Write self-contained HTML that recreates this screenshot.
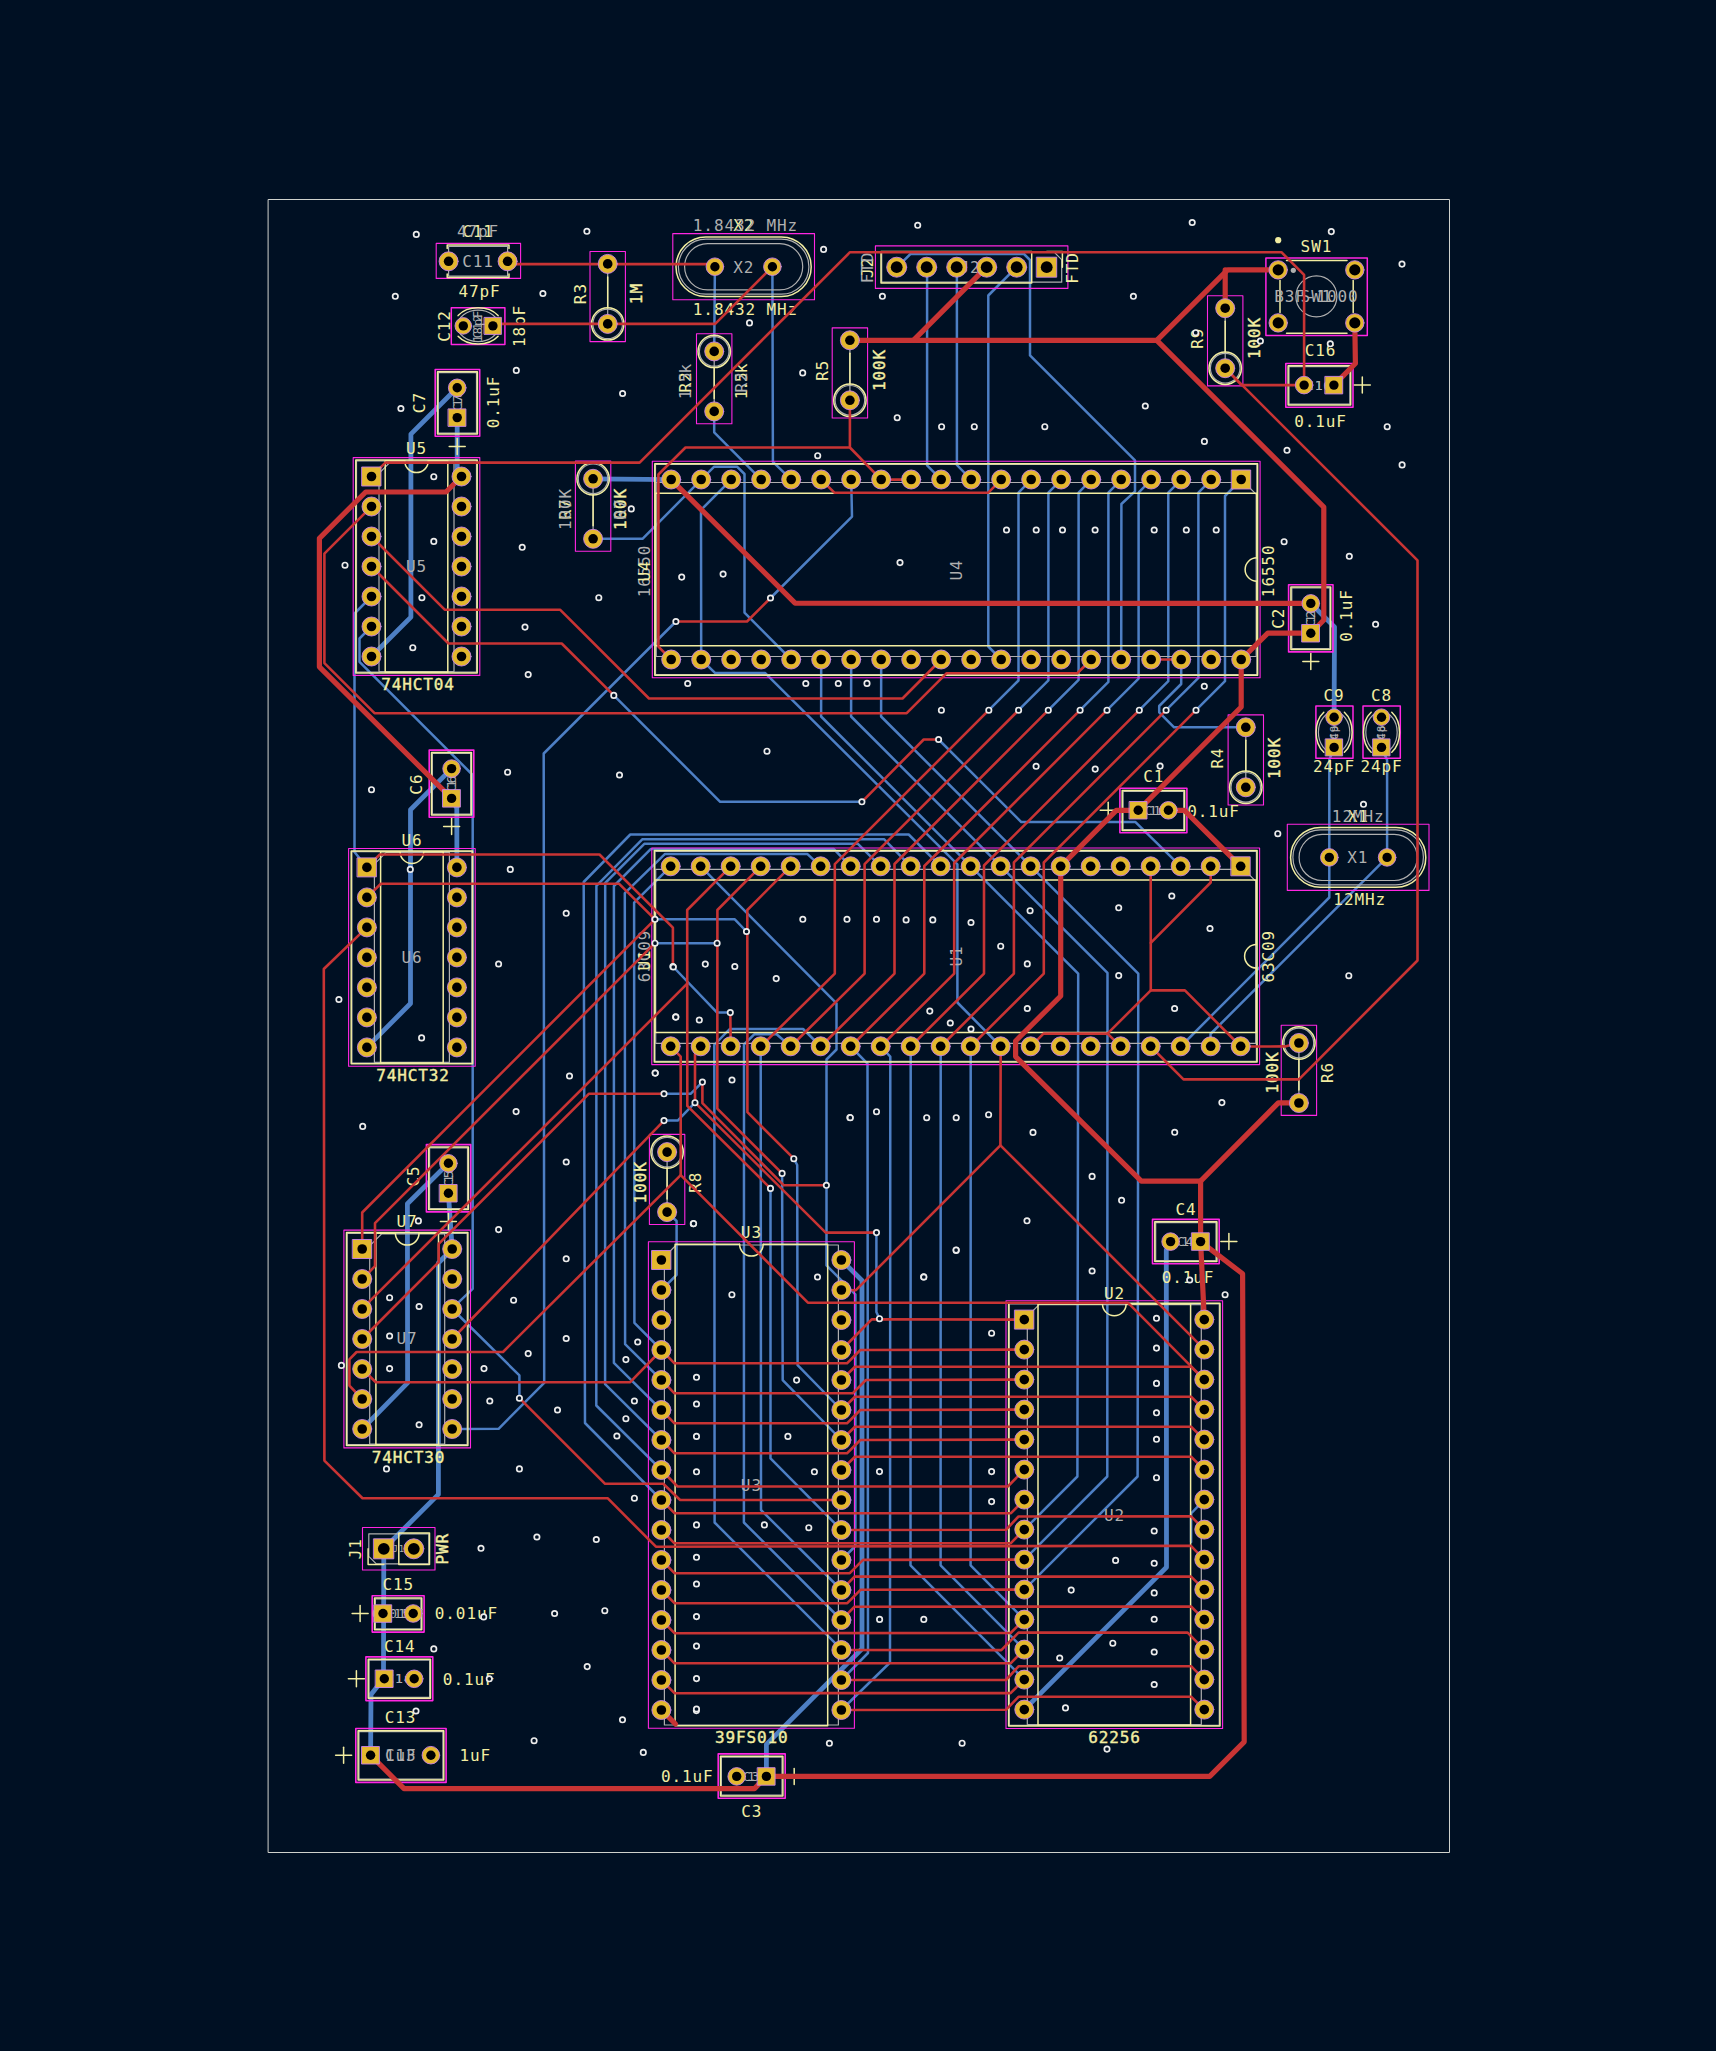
<!DOCTYPE html>
<html><head><meta charset="utf-8"><title>PCB</title>
<style>
html,body{margin:0;padding:0;background:#001023;}
svg{display:block;}
path,rect,circle,ellipse{fill:none;stroke-linecap:round;stroke-linejoin:round;}
text{font-family:"DejaVu Sans Mono","Liberation Mono",monospace;font-size:16px;letter-spacing:0.9px;text-anchor:middle;stroke:none;}
text.s{fill:#F2EDA1;}
text.f{fill:#AFAFAF;}
text.b{stroke:#F2EDA1;stroke-width:0.4px;}
.p{fill:#E3B72E;stroke:#C982E6;stroke-width:0.9;}
.h{fill:#000;stroke:none;}
#via circle{fill:#001023;stroke:#ECECEC;stroke-width:1.7;}
</style></head><body>
<svg width="1716" height="2051" viewBox="0 0 1716 2051">
<rect x="0" y="0" width="1716" height="2051" style="fill:#001023;stroke:none"/>
<rect x="268.5" y="199.5" width="1181" height="1653" stroke="#D0D2CD" stroke-width="1"/>
<g id="bcu">
<path d="M457.2 387.8 L410.9 434.1 L410.9 617.1 L371.5 656.5" stroke="#4D7FC4" stroke-width="4.8" />
<path d="M457.2 417.6 L457.2 468 L461.5 476.5" stroke="#4D7FC4" stroke-width="4.8" />
<path d="M371.5 596.5 L354.5 613.5 L354.5 852 L366.9 867.4" stroke="#4D7FC4" stroke-width="2.5" />
<path d="M371.5 626.5 L359.5 638.5 L359.5 661.8 L472.7 775 L472.7 1288.8 L459 1301.8 L452.2 1309" stroke="#4D7FC4" stroke-width="2.5" />
<path d="M714.9 266.7 L714.2 351.4" stroke="#4D7FC4" stroke-width="2.5" />
<path d="M714.2 411.8 L714.2 432.3 L761.2 479.6" stroke="#4D7FC4" stroke-width="2.5" />
<path d="M772.4 266.7 L772.9 461.8 L791.2 479.6" stroke="#4D7FC4" stroke-width="2.5" />
<path d="M451.6 768.6 L410.5 809.7 L410.5 1003.5 L366.9 1047.4" stroke="#4D7FC4" stroke-width="4.8" />
<path d="M451.6 798.4 L456.8 808 L456.9 867.4" stroke="#4D7FC4" stroke-width="4.8" />
<path d="M770.5 598 L852 516.6 L851.2 479.6" stroke="#4D7FC4" stroke-width="2.5" />
<path d="M675.9 621.5 L543.7 753.5 L544.2 1382.9 L498.6 1428.8 L452.2 1429" stroke="#4D7FC4" stroke-width="2.5" />
<path d="M593.1 478.8 L671.2 479.6" stroke="#4D7FC4" stroke-width="4.8" />
<path d="M593.1 538.8 L642.5 538.8 L701.2 479.6" stroke="#4D7FC4" stroke-width="2.5" />
<path d="M731.2 479.6 L701 510 L701.2 659.5 L715 672.9 L765 672.9 L957.4 864.3 L957.4 1002.5 L1000.7 1046.5" stroke="#4D7FC4" stroke-width="2.5" />
<path d="M701.2 479.6 L714.2 466.7 L737 466.7 L744.5 474 L744.5 612.6 L791.2 659.5" stroke="#4D7FC4" stroke-width="2.5" />
<path d="M821.2 659.5 L821.1 716.5 L1078.2 973.6 L1077.4 1476.5 L1024.3 1529.6" stroke="#4D7FC4" stroke-width="2.5" />
<path d="M851.2 659.5 L851.1 716.5 L1107.5 972.9 L1107.3 1476.5 L1024.3 1559.6" stroke="#4D7FC4" stroke-width="2.5" />
<path d="M881.2 659.5 L881.1 716.5 L1138.3 973.7 L1137.6 1476.5 L1024.3 1589.6" stroke="#4D7FC4" stroke-width="2.5" />
<path d="M613.8 695.4 L720.2 801.8 L861.9 801.8" stroke="#4D7FC4" stroke-width="2.5" />
<path d="M938.6 739.5 L1021.3 822.1 L1135.5 822.1 L1180.7 866.4" stroke="#4D7FC4" stroke-width="2.5" />
<path d="M927.1 267.2 L927.1 465.4 L941.2 479.6" stroke="#4D7FC4" stroke-width="2.5" />
<path d="M956.9 267.2 L956.9 465 L971.2 479.6" stroke="#4D7FC4" stroke-width="2.5" />
<path d="M1016.6 267.2 L988.3 295.5 L988.3 646.5 L1001.2 659.5" stroke="#4D7FC4" stroke-width="2.5" />
<path d="M1031.2 479.6 L1018.5 492.7 L1018.5 680.5 L988.8 710.2" stroke="#4D7FC4" stroke-width="2.5" />
<path d="M1061.2 479.6 L1048.4 492.7 L1048.4 680.4 L1018.6 710.2" stroke="#4D7FC4" stroke-width="2.5" />
<path d="M1091.2 479.6 L1078.6 492.7 L1078.6 679.9 L1048.3 710.2" stroke="#4D7FC4" stroke-width="2.5" />
<path d="M1121.2 479.6 L1108.4 492.7 L1108.4 681.9 L1080.1 710.2" stroke="#4D7FC4" stroke-width="2.5" />
<path d="M1151.2 479.6 L1138.6 492.7 L1138.6 678.6 L1107 710.2" stroke="#4D7FC4" stroke-width="2.5" />
<path d="M1181.2 479.6 L1168.3 492.7 L1168.3 681.2 L1139.3 710.2" stroke="#4D7FC4" stroke-width="2.5" />
<path d="M1211.2 479.6 L1198.4 492.7 L1198.4 677.9 L1166.1 710.2" stroke="#4D7FC4" stroke-width="2.5" />
<path d="M1241.2 479.6 L1225 496 L1225 681.2 L1196 710.2" stroke="#4D7FC4" stroke-width="2.5" />
<path d="M897.2 267.2 L910.4 254 L1024 254 L1030 260 L1030 355.4 L1135 460.4 L1135 491.4 L1121.4 504 L1121.2 659.5" stroke="#4D7FC4" stroke-width="2.5" />
<path d="M1181.2 659.5 L1181.2 684 L1159.2 706 L1159.2 712.3 L1174.1 727.3 L1245.8 727.3" stroke="#4D7FC4" stroke-width="2.5" />
<path d="M1310.8 603.4 L1334.5 627 L1334.1 717.2" stroke="#4D7FC4" stroke-width="4.8" />
<path d="M655 919.3 L734.8 919.3 L746.5 931.5" stroke="#4D7FC4" stroke-width="2.5" />
<path d="M655 943.2 L717.1 943.2" stroke="#4D7FC4" stroke-width="2.5" />
<path d="M672.9 966.5 L717.1 1012.6 L730.3 1012.6" stroke="#4D7FC4" stroke-width="2.5" />
<path d="M700.7 866.4 L836.5 1003.3 L836.5 1049.5 L826.5 1059.5 L826.5 1265.4 L855.4 1294.3 L855.4 1546 L841.4 1560" stroke="#4D7FC4" stroke-width="2.5" />
<path d="M820.7 1046.5 L803.1 1029 L729.7 1029 L714.3 1044.8 L714.6 1522.5 L833.9 1641.8 L841.4 1650" stroke="#4D7FC4" stroke-width="2.5" />
<path d="M790.7 1046.5 L776.6 1034.3 L754.2 1034.3 L744 1044.5 L743.9 1522.5 L841.4 1620" stroke="#4D7FC4" stroke-width="2.5" />
<path d="M940.7 866.4 L908.7 834.5 L630.3 834.5 L583.7 882 L585 1423 L661.4 1500" stroke="#4D7FC4" stroke-width="2.5" />
<path d="M910.7 866.4 L884 839.2 L642.5 839.2 L596.4 885.8 L596.3 1405.5 L661.4 1470" stroke="#4D7FC4" stroke-width="2.5" />
<path d="M880.7 866.4 L857.9 843.8 L644.3 843.8 L605.2 883 L605.1 1384.2 L661.4 1440" stroke="#4D7FC4" stroke-width="2.5" />
<path d="M850.7 866.4 L833.6 848.9 L650.9 848.9 L613.9 886 L613.9 1362.9 L661.4 1410" stroke="#4D7FC4" stroke-width="2.5" />
<path d="M820.7 866.4 L807.5 854.1 L664.8 854.1 L624.8 893.2 L625.1 1344.1 L661.4 1380" stroke="#4D7FC4" stroke-width="2.5" />
<path d="M670.7 866.4 L634.1 902.6 L634.4 1322.8 L661.4 1350" stroke="#4D7FC4" stroke-width="2.5" />
<path d="M1329.3 857.4 L1329.3 760 L1334.1 747.4" stroke="#4D7FC4" stroke-width="2.5" />
<path d="M1387.1 857.4 L1387.1 760 L1381.5 747.4" stroke="#4D7FC4" stroke-width="2.5" />
<path d="M1329.3 857.4 L1329.3 897.5 L1180.7 1046.5" stroke="#4D7FC4" stroke-width="2.5" />
<path d="M1387.1 857.4 L1210.5 1034 L1210.7 1046.5" stroke="#4D7FC4" stroke-width="2.5" />
<path d="M664 1093.8 L690.6 1093.8 L702.4 1082.1" stroke="#4D7FC4" stroke-width="2.5" />
<path d="M664 1120.6 L677.7 1120.6 L695 1102.7" stroke="#4D7FC4" stroke-width="2.5" />
<path d="M667.1 1212.1 L676.6 1221 L676.6 1274.8 L661.4 1290" stroke="#4D7FC4" stroke-width="2.5" />
<path d="M760.7 1046.5 L761 1510 L841.4 1590" stroke="#4D7FC4" stroke-width="2.5" />
<path d="M770.5 1188.4 L770.5 1458.4 L841.4 1530" stroke="#4D7FC4" stroke-width="2.5" />
<path d="M782.1 1173.4 L782.7 1380.1 L841.4 1440" stroke="#4D7FC4" stroke-width="2.5" />
<path d="M793.8 1158.7 L797.2 1165 L797.6 1365.2 L841.4 1410" stroke="#4D7FC4" stroke-width="2.5" />
<path d="M850.7 1046.5 L867.5 1063.6 L868 1653 L841.4 1680" stroke="#4D7FC4" stroke-width="2.5" />
<path d="M880.7 1046.5 L890.3 1056.6 L890 1662.5 L841.4 1710" stroke="#4D7FC4" stroke-width="2.5" />
<path d="M910.7 1046.5 L910.5 1565.3 L1024.3 1679.6" stroke="#4D7FC4" stroke-width="2.5" />
<path d="M940.7 1046.5 L940.6 1565.3 L1024.3 1649.6" stroke="#4D7FC4" stroke-width="2.5" />
<path d="M970.7 1046.5 L970.6 1565.3 L1024.3 1619.6" stroke="#4D7FC4" stroke-width="2.5" />
<path d="M876.4 1232.9 L876.4 1312 L879.5 1318.7" stroke="#4D7FC4" stroke-width="2.5" />
<path d="M841.4 1260 L862 1280.5 L862 1648.8 L766.4 1744.4 L766.4 1776.4" stroke="#4D7FC4" stroke-width="4.8" />
<path d="M1170.6 1241.6 L1166.3 1250 L1166.5 1567.2 L1024.3 1709.6" stroke="#4D7FC4" stroke-width="4.8" />
<path d="M452.2 1309 L519.4 1375.4 L519.4 1398.2" stroke="#4D7FC4" stroke-width="2.5" />
<path d="M448.4 1163.3 L407.4 1203.8 L407.6 1382.9 L362.2 1429" stroke="#4D7FC4" stroke-width="4.8" />
<path d="M448.4 1193.3 L452.2 1249 L438.4 1263 L438.4 1494.4 L383.8 1548.8 L383.5 1678.8 L371 1694.6 L370.6 1755.2" stroke="#4D7FC4" stroke-width="4.8" />
<path d="M1191.1 1542 L1191.1 1513.5 L1204.3 1499.6" stroke="#4D7FC4" stroke-width="2.5" />
</g>
<g id="crt">
<rect x="353.2" y="457.6" width="126.6" height="217.8" stroke="#FF26E2" stroke-width="1.1"/>
<rect x="348.6" y="848.5" width="126.6" height="217.8" stroke="#FF26E2" stroke-width="1.1"/>
<rect x="343.9" y="1230.1" width="126.6" height="217.8" stroke="#FF26E2" stroke-width="1.1"/>
<rect x="652.3" y="461.2" width="607.8" height="216.6" stroke="#FF26E2" stroke-width="1.1"/>
<rect x="651.8" y="848" width="607.8" height="216.6" stroke="#FF26E2" stroke-width="1.1"/>
<rect x="648.4" y="1241.7" width="206" height="486.6" stroke="#FF26E2" stroke-width="1.1"/>
<rect x="1006" y="1300.7" width="216.6" height="427.8" stroke="#FF26E2" stroke-width="1.1"/>
<rect x="590" y="251.5" width="35.4" height="90.1" stroke="#FF26E2" stroke-width="1.1"/>
<rect x="696.5" y="333.7" width="35.4" height="90.1" stroke="#FF26E2" stroke-width="1.1"/>
<rect x="832.2" y="327.9" width="35.4" height="90.1" stroke="#FF26E2" stroke-width="1.1"/>
<rect x="1207.5" y="295.8" width="35.4" height="90.1" stroke="#FF26E2" stroke-width="1.1"/>
<rect x="575.4" y="461.1" width="35.4" height="90.1" stroke="#FF26E2" stroke-width="1.1"/>
<rect x="1228.1" y="714.9" width="35.4" height="90.1" stroke="#FF26E2" stroke-width="1.1"/>
<rect x="1281.2" y="1025.3" width="35.4" height="90.1" stroke="#FF26E2" stroke-width="1.1"/>
<rect x="649.4" y="1134.4" width="35.4" height="90.1" stroke="#FF26E2" stroke-width="1.1"/>
<rect x="435.2" y="369.5" width="44.5" height="66.8" stroke="#FF26E2" stroke-width="1.6"/>
<rect x="429.2" y="750.1" width="44.6" height="67.2" stroke="#FF26E2" stroke-width="1.6"/>
<rect x="426.4" y="1144.6" width="44.3" height="67.3" stroke="#FF26E2" stroke-width="1.6"/>
<rect x="1288.6" y="584.8" width="44.4" height="67.1" stroke="#FF26E2" stroke-width="1.6"/>
<rect x="1285.8" y="363.5" width="67.2" height="43.8" stroke="#FF26E2" stroke-width="1.6"/>
<rect x="1119.9" y="788.3" width="67" height="44.5" stroke="#FF26E2" stroke-width="1.6"/>
<rect x="1152.5" y="1219.4" width="66.7" height="44.4" stroke="#FF26E2" stroke-width="1.6"/>
<rect x="718.2" y="1753.9" width="67" height="44.3" stroke="#FF26E2" stroke-width="1.6"/>
<rect x="372.2" y="1595.8" width="51.9" height="36.3" stroke="#FF26E2" stroke-width="1.6"/>
<rect x="365.9" y="1656.9" width="66.9" height="43.7" stroke="#FF26E2" stroke-width="1.6"/>
<rect x="355.8" y="1728.5" width="90.3" height="53.9" stroke="#FF26E2" stroke-width="1.6"/>
<rect x="436.2" y="243.4" width="84.4" height="35" stroke="#FF26E2" stroke-width="1.1"/>
<rect x="451.3" y="307.8" width="53.6" height="36.7" stroke="#FF26E2" stroke-width="1.5"/>
<rect x="1315.9" y="706" width="37.1" height="52.2" stroke="#FF26E2" stroke-width="1.5"/>
<rect x="1363" y="706" width="37.3" height="52.2" stroke="#FF26E2" stroke-width="1.5"/>
<rect x="672.8" y="233.6" width="141.7" height="66.1" stroke="#FF26E2" stroke-width="1.1"/>
<rect x="1287.3" y="824.3" width="141.7" height="66.1" stroke="#FF26E2" stroke-width="1.1"/>
<rect x="875.4" y="245.9" width="192.5" height="42.5" stroke="#FF26E2" stroke-width="1.1"/>
<rect x="362.5" y="1527.5" width="72.5" height="42.5" stroke="#FF26E2" stroke-width="1.1"/>
<rect x="1265.9" y="258" width="101.4" height="77.5" stroke="#FF26E2" stroke-width="1.5"/>
</g>
<g id="fab">
<path d="M390.8 461.5 L454 461.5 L454 671.5 L379 671.5 L379 473.3 L390.8 461.5" stroke="#AFAFAF" stroke-width="1.2" />
<rect x="356.5" y="460.8" width="120" height="211.4" stroke="#AFAFAF" stroke-width="1.2"/>
<path d="M386.2 852.4 L449.4 852.4 L449.4 1062.4 L374.4 1062.4 L374.4 864.2 L386.2 852.4" stroke="#AFAFAF" stroke-width="1.2" />
<rect x="351.9" y="851.7" width="120" height="211.4" stroke="#AFAFAF" stroke-width="1.2"/>
<path d="M381.5 1234 L444.7 1234 L444.7 1444 L369.7 1444 L369.7 1245.8 L381.5 1234" stroke="#AFAFAF" stroke-width="1.2" />
<rect x="347.2" y="1233.3" width="120" height="211.4" stroke="#AFAFAF" stroke-width="1.2"/>
<path d="M1256.2 494.3 L1256.2 656.5 L656.2 656.5 L656.2 482.5 L1244.4 482.5 L1256.2 494.3" stroke="#AFAFAF" stroke-width="1.2" />
<rect x="655.5" y="464.5" width="601.4" height="210" stroke="#AFAFAF" stroke-width="1.2"/>
<path d="M1255.7 881.1 L1255.7 1043.3 L655.7 1043.3 L655.7 869.3 L1243.9 869.3 L1255.7 881.1" stroke="#AFAFAF" stroke-width="1.2" />
<rect x="655" y="851.3" width="601.4" height="210" stroke="#AFAFAF" stroke-width="1.2"/>
<path d="M676.2 1245 L838.4 1245 L838.4 1725 L664.4 1725 L664.4 1256.8 L676.2 1245" stroke="#AFAFAF" stroke-width="1.2" />
<path d="M1039.1 1304.6 L1201.3 1304.6 L1201.3 1724.6 L1027.3 1724.6 L1027.3 1316.4 L1039.1 1304.6" stroke="#AFAFAF" stroke-width="1.2" />
<rect x="1009.3" y="1303.9" width="210" height="421.4" stroke="#AFAFAF" stroke-width="1.2"/>
<circle cx="607.7" cy="323.9" r="14.8" stroke="#AFAFAF" stroke-width="1.2"/>
<path d="M607.7 323.9 L607.7 263.9" stroke="#AFAFAF" stroke-width="1.2" />
<circle cx="714.2" cy="351.4" r="14.8" stroke="#AFAFAF" stroke-width="1.2"/>
<path d="M714.2 351.4 L714.2 411.4" stroke="#AFAFAF" stroke-width="1.2" />
<circle cx="849.9" cy="400.3" r="14.8" stroke="#AFAFAF" stroke-width="1.2"/>
<path d="M849.9 400.3 L849.9 340.3" stroke="#AFAFAF" stroke-width="1.2" />
<circle cx="1225.2" cy="368.2" r="14.8" stroke="#AFAFAF" stroke-width="1.2"/>
<path d="M1225.2 368.2 L1225.2 308.2" stroke="#AFAFAF" stroke-width="1.2" />
<circle cx="593.1" cy="478.8" r="14.8" stroke="#AFAFAF" stroke-width="1.2"/>
<path d="M593.1 478.8 L593.1 538.8" stroke="#AFAFAF" stroke-width="1.2" />
<circle cx="1245.8" cy="787.3" r="14.8" stroke="#AFAFAF" stroke-width="1.2"/>
<path d="M1245.8 787.3 L1245.8 727.3" stroke="#AFAFAF" stroke-width="1.2" />
<circle cx="1298.9" cy="1043" r="14.8" stroke="#AFAFAF" stroke-width="1.2"/>
<path d="M1298.9 1043 L1298.9 1103" stroke="#AFAFAF" stroke-width="1.2" />
<circle cx="667.1" cy="1152.1" r="14.8" stroke="#AFAFAF" stroke-width="1.2"/>
<path d="M667.1 1152.1 L667.1 1212.1" stroke="#AFAFAF" stroke-width="1.2" />
<rect x="438.4" y="372.7" width="38.1" height="60.4" stroke="#AFAFAF" stroke-width="1.2"/>
<rect x="432.4" y="753.3" width="38.2" height="60.8" stroke="#AFAFAF" stroke-width="1.2"/>
<rect x="429.6" y="1147.8" width="37.9" height="60.9" stroke="#AFAFAF" stroke-width="1.2"/>
<rect x="1291.8" y="588" width="38" height="60.7" stroke="#AFAFAF" stroke-width="1.2"/>
<rect x="1289" y="366.7" width="60.8" height="37.4" stroke="#AFAFAF" stroke-width="1.2"/>
<rect x="1123.1" y="791.5" width="60.6" height="38.1" stroke="#AFAFAF" stroke-width="1.2"/>
<rect x="1155.7" y="1222.6" width="60.3" height="38" stroke="#AFAFAF" stroke-width="1.2"/>
<rect x="721.4" y="1757.1" width="60.6" height="37.9" stroke="#AFAFAF" stroke-width="1.2"/>
<rect x="375.4" y="1599" width="45.5" height="29.9" stroke="#AFAFAF" stroke-width="1.2"/>
<rect x="369.1" y="1660.1" width="60.5" height="37.3" stroke="#AFAFAF" stroke-width="1.2"/>
<rect x="359" y="1731.7" width="83.9" height="47.5" stroke="#AFAFAF" stroke-width="1.2"/>
<rect x="448.6" y="246.5" width="59" height="29.6" stroke="#AFAFAF" stroke-width="1.2"/>
<ellipse cx="478.1" cy="325.9" rx="20.5" ry="15.7" stroke="#AFAFAF" stroke-width="1.2"/>
<ellipse cx="1334.1" cy="732.3" rx="15.7" ry="20.5" stroke="#AFAFAF" stroke-width="1.2"/>
<ellipse cx="1381.5" cy="732.3" rx="15.7" ry="20.5" stroke="#AFAFAF" stroke-width="1.2"/>
<rect x="678.4" y="239.2" width="130.5" height="54.9" rx="27.5" ry="27.5" stroke="#AFAFAF" stroke-width="1.2"/>
<rect x="684.6" y="243.7" width="118.1" height="46.1" rx="23" ry="23" stroke="#AFAFAF" stroke-width="1.2"/>
<rect x="1292.9" y="829.9" width="130.5" height="54.9" rx="27.5" ry="27.5" stroke="#AFAFAF" stroke-width="1.2"/>
<rect x="1299.1" y="834.4" width="118.1" height="46.1" rx="23" ry="23" stroke="#AFAFAF" stroke-width="1.2"/>
<path d="M1061.7 259.7 L1061.7 282.2 L881.7 282.2 L881.7 252.2 L1054.2 252.2 L1061.7 259.7" stroke="#AFAFAF" stroke-width="1.2" />
<path d="M368.8 1556.3 L368.8 1533.8 L428.8 1533.8 L428.8 1563.8 L376.3 1563.8 L368.8 1556.3" stroke="#AFAFAF" stroke-width="1.2" />
<circle cx="1316.4" cy="296.4" r="20.5" stroke="#AFAFAF" stroke-width="1.2"/>
<circle cx="1293.3" cy="270.3" r="2.6" style="fill:#AFAFAF;stroke:none"/>
</g>
<g id="silk">
<rect x="355.8" y="460.1" width="121.4" height="212.8" stroke="#F2EDA1" stroke-width="1.5"/>
<path d="M404.7 460.8 L385.2 460.8 L385.2 672.2 L447.8 672.2 L447.8 460.8 L428.3 460.8" stroke="#F2EDA1" stroke-width="1.5" />
<path d="M428.3 460.8 A11.8 11.8 0 0 1 404.7 460.8" stroke="#F2EDA1" stroke-width="1.5"/>
<rect x="351.2" y="851" width="121.4" height="212.8" stroke="#F2EDA1" stroke-width="1.5"/>
<path d="M400.1 851.7 L380.6 851.7 L380.6 1063.1 L443.2 1063.1 L443.2 851.7 L423.7 851.7" stroke="#F2EDA1" stroke-width="1.5" />
<path d="M423.7 851.7 A11.8 11.8 0 0 1 400.1 851.7" stroke="#F2EDA1" stroke-width="1.5"/>
<rect x="346.5" y="1232.6" width="121.4" height="212.8" stroke="#F2EDA1" stroke-width="1.5"/>
<path d="M395.4 1233.3 L375.9 1233.3 L375.9 1444.7 L438.5 1444.7 L438.5 1233.3 L419 1233.3" stroke="#F2EDA1" stroke-width="1.5" />
<path d="M419 1233.3 A11.8 11.8 0 0 1 395.4 1233.3" stroke="#F2EDA1" stroke-width="1.5"/>
<rect x="654.8" y="463.8" width="602.8" height="211.4" stroke="#F2EDA1" stroke-width="1.5"/>
<path d="M1256.9 557.7 L1256.9 493.2 L655.5 493.2 L655.5 645.8 L1256.9 645.8 L1256.9 581.3" stroke="#F2EDA1" stroke-width="1.5" />
<path d="M1256.9 581.3 A11.8 11.8 0 0 1 1256.9 557.7" stroke="#F2EDA1" stroke-width="1.5"/>
<rect x="654.3" y="850.6" width="602.8" height="211.4" stroke="#F2EDA1" stroke-width="1.5"/>
<path d="M1256.4 944.5 L1256.4 880 L655 880 L655 1032.6 L1256.4 1032.6 L1256.4 968.1" stroke="#F2EDA1" stroke-width="1.5" />
<path d="M1256.4 968.1 A11.8 11.8 0 0 1 1256.4 944.5" stroke="#F2EDA1" stroke-width="1.5"/>
<path d="M739.6 1244.3 L675.1 1244.3 L675.1 1725.7 L827.7 1725.7 L827.7 1244.3 L763.2 1244.3" stroke="#F2EDA1" stroke-width="1.5" />
<path d="M763.2 1244.3 A11.8 11.8 0 0 1 739.6 1244.3" stroke="#F2EDA1" stroke-width="1.5"/>
<rect x="1008.6" y="1303.2" width="211.4" height="422.8" stroke="#F2EDA1" stroke-width="1.5"/>
<path d="M1102.5 1303.9 L1038 1303.9 L1038 1725.3 L1190.6 1725.3 L1190.6 1303.9 L1126.1 1303.9" stroke="#F2EDA1" stroke-width="1.5" />
<path d="M1126.1 1303.9 A11.8 11.8 0 0 1 1102.5 1303.9" stroke="#F2EDA1" stroke-width="1.5"/>
<circle cx="607.7" cy="323.9" r="16.2" stroke="#F2EDA1" stroke-width="1.5"/>
<path d="M607.7 307.7 L607.7 276.9" stroke="#F2EDA1" stroke-width="1.5" />
<circle cx="714.2" cy="351.4" r="16.2" stroke="#F2EDA1" stroke-width="1.5"/>
<path d="M714.2 367.6 L714.2 398.4" stroke="#F2EDA1" stroke-width="1.5" />
<circle cx="849.9" cy="400.3" r="16.2" stroke="#F2EDA1" stroke-width="1.5"/>
<path d="M849.9 384.1 L849.9 353.3" stroke="#F2EDA1" stroke-width="1.5" />
<circle cx="1225.2" cy="368.2" r="16.2" stroke="#F2EDA1" stroke-width="1.5"/>
<path d="M1225.2 352 L1225.2 321.2" stroke="#F2EDA1" stroke-width="1.5" />
<circle cx="593.1" cy="478.8" r="16.2" stroke="#F2EDA1" stroke-width="1.5"/>
<path d="M593.1 495 L593.1 525.8" stroke="#F2EDA1" stroke-width="1.5" />
<circle cx="1245.8" cy="787.3" r="16.2" stroke="#F2EDA1" stroke-width="1.5"/>
<path d="M1245.8 771.1 L1245.8 740.3" stroke="#F2EDA1" stroke-width="1.5" />
<circle cx="1298.9" cy="1043" r="16.2" stroke="#F2EDA1" stroke-width="1.5"/>
<path d="M1298.9 1059.2 L1298.9 1090" stroke="#F2EDA1" stroke-width="1.5" />
<circle cx="667.1" cy="1152.1" r="16.2" stroke="#F2EDA1" stroke-width="1.5"/>
<path d="M667.1 1168.3 L667.1 1199.1" stroke="#F2EDA1" stroke-width="1.5" />
<rect x="437.5" y="371.8" width="39.9" height="62.2" stroke="#F2EDA1" stroke-width="1.5"/>
<path d="M449.2 446.5 L465.2 446.5" stroke="#F2EDA1" stroke-width="1.5" />
<path d="M457.2 438.5 L457.2 454.5" stroke="#F2EDA1" stroke-width="1.5" />
<rect x="431.5" y="752.4" width="40" height="62.6" stroke="#F2EDA1" stroke-width="1.5"/>
<path d="M443.6 826.6 L459.6 826.6" stroke="#F2EDA1" stroke-width="1.5" />
<path d="M451.6 818.6 L451.6 834.6" stroke="#F2EDA1" stroke-width="1.5" />
<rect x="428.7" y="1146.9" width="39.7" height="62.7" stroke="#F2EDA1" stroke-width="1.5"/>
<path d="M440.4 1221.6 L456.4 1221.6" stroke="#F2EDA1" stroke-width="1.5" />
<path d="M448.4 1213.6 L448.4 1229.6" stroke="#F2EDA1" stroke-width="1.5" />
<rect x="1290.9" y="587.1" width="39.8" height="62.5" stroke="#F2EDA1" stroke-width="1.5"/>
<path d="M1302.8 661.6 L1318.8 661.6" stroke="#F2EDA1" stroke-width="1.5" />
<path d="M1310.8 653.6 L1310.8 669.6" stroke="#F2EDA1" stroke-width="1.5" />
<rect x="1288.1" y="365.8" width="62.6" height="39.2" stroke="#F2EDA1" stroke-width="1.5"/>
<path d="M1354.3 385.1 L1370.3 385.1" stroke="#F2EDA1" stroke-width="1.5" />
<path d="M1362.3 377.1 L1362.3 393.1" stroke="#F2EDA1" stroke-width="1.5" />
<rect x="1122.2" y="790.6" width="62.4" height="39.9" stroke="#F2EDA1" stroke-width="1.5"/>
<path d="M1100.2 810.3 L1116.2 810.3" stroke="#F2EDA1" stroke-width="1.5" />
<path d="M1108.2 802.3 L1108.2 818.3" stroke="#F2EDA1" stroke-width="1.5" />
<rect x="1154.8" y="1221.7" width="62.1" height="39.8" stroke="#F2EDA1" stroke-width="1.5"/>
<path d="M1220.9 1241.6 L1236.9 1241.6" stroke="#F2EDA1" stroke-width="1.5" />
<path d="M1228.9 1233.6 L1228.9 1249.6" stroke="#F2EDA1" stroke-width="1.5" />
<rect x="720.5" y="1756.2" width="62.4" height="39.7" stroke="#F2EDA1" stroke-width="1.5"/>
<path d="M786.2 1776.4 L802.2 1776.4" stroke="#F2EDA1" stroke-width="1.5" />
<path d="M794.2 1768.4 L794.2 1784.4" stroke="#F2EDA1" stroke-width="1.5" />
<rect x="374.5" y="1598.1" width="47.3" height="31.7" stroke="#F2EDA1" stroke-width="1.5"/>
<path d="M352.1 1613.5 L368.1 1613.5" stroke="#F2EDA1" stroke-width="1.5" />
<path d="M360.1 1605.5 L360.1 1621.5" stroke="#F2EDA1" stroke-width="1.5" />
<rect x="368.2" y="1659.2" width="62.3" height="39.1" stroke="#F2EDA1" stroke-width="1.5"/>
<path d="M348.4 1678.8 L364.4 1678.8" stroke="#F2EDA1" stroke-width="1.5" />
<path d="M356.4 1670.8 L356.4 1686.8" stroke="#F2EDA1" stroke-width="1.5" />
<rect x="358.1" y="1730.8" width="85.7" height="49.3" stroke="#F2EDA1" stroke-width="1.5"/>
<path d="M335.6 1755.2 L351.6 1755.2" stroke="#F2EDA1" stroke-width="1.5" />
<path d="M343.6 1747.2 L343.6 1763.2" stroke="#F2EDA1" stroke-width="1.5" />
<path d="M447.2 248.6 L447.2 245.1 L509 245.1 L509 248.6" stroke="#F2EDA1" stroke-width="1.5" />
<path d="M447.2 274 L447.2 277.5 L509 277.5 L509 274" stroke="#F2EDA1" stroke-width="1.5" />
<path d="M458.1 315.6 A24 17.3 0 0 1 498.1 315.6" stroke="#F2EDA1" stroke-width="1.5"/>
<path d="M458.1 336.2 A24 17.3 0 0 0 498.1 336.2" stroke="#F2EDA1" stroke-width="1.5"/>
<path d="M1323.8 712.3 A17.3 24 0 0 0 1323.8 752.3" stroke="#F2EDA1" stroke-width="1.5"/>
<path d="M1344.4 712.3 A17.3 24 0 0 1 1344.4 752.3" stroke="#F2EDA1" stroke-width="1.5"/>
<path d="M1371.2 712.3 A17.3 24 0 0 0 1371.2 752.3" stroke="#F2EDA1" stroke-width="1.5"/>
<path d="M1391.8 712.3 A17.3 24 0 0 1 1391.8 752.3" stroke="#F2EDA1" stroke-width="1.5"/>
<rect x="676" y="236.9" width="135.2" height="59.6" rx="29.8" ry="29.8" stroke="#F2EDA1" stroke-width="1.5"/>
<rect x="1290.6" y="827.6" width="135.2" height="59.6" rx="29.8" ry="29.8" stroke="#F2EDA1" stroke-width="1.5"/>
<rect x="881" y="251.5" width="150.7" height="31.4" stroke="#F2EDA1" stroke-width="1.5"/>
<path d="M1046.7 251.5 L1062.4 251.5 L1062.4 267.2" stroke="#F2EDA1" stroke-width="1.5" />
<rect x="398.8" y="1533.1" width="30.7" height="31.4" stroke="#F2EDA1" stroke-width="1.5"/>
<path d="M383.8 1564.5 L368.1 1564.5 L368.1 1548.8" stroke="#F2EDA1" stroke-width="1.5" />
<path d="M1286.5 260.6 L1347 260.6" stroke="#F2EDA1" stroke-width="1.5" />
<path d="M1286.5 333.2 L1347 333.2" stroke="#F2EDA1" stroke-width="1.5" />
<path d="M1280 280.5 L1280 312.5" stroke="#F2EDA1" stroke-width="1.5" />
<path d="M1353.2 280.5 L1353.2 312.5" stroke="#F2EDA1" stroke-width="1.5" />
<circle cx="1278.2" cy="240.2" r="3.1" style="fill:#F2EDA1;stroke:none"/>
</g>
<g id="txt">
<text class="s" x="416.5" y="448.5" dy=".36em">U5</text>
<text class="f" x="416.5" y="566.5" dy=".36em">U5</text>
<text class="s b" x="418" y="684" dy=".36em">74HCT04</text>
<text class="s" x="412" y="840" dy=".36em">U6</text>
<text class="f" x="412" y="957" dy=".36em">U6</text>
<text class="s b" x="413" y="1075" dy=".36em">74HCT32</text>
<text class="s" x="407" y="1221.6" dy=".36em">U7</text>
<text class="f" x="407" y="1338.6" dy=".36em">U7</text>
<text class="s b" x="408.5" y="1457" dy=".36em">74HCT30</text>
<text class="s" x="751.4" y="1232.5" dy=".36em">U3</text>
<text class="f" x="751.4" y="1485" dy=".36em">U3</text>
<text class="s b" x="751.8" y="1737.6" dy=".36em">39FS010</text>
<text class="s" x="1114.5" y="1293" dy=".36em">U2</text>
<text class="f" x="1114.5" y="1515" dy=".36em">U2</text>
<text class="s b" x="1114.5" y="1737.5" dy=".36em">62256</text>
<text class="f" x="956" y="570" dy=".36em" transform="rotate(-90 956 570)">U4</text>
<text class="s" x="1268.7" y="570.8" dy=".36em" transform="rotate(-90 1268.7 570.8)">16550</text>
<text class="f" x="644.4" y="571" dy=".36em" transform="rotate(-90 644.4 571)">16550</text>
<text class="s" x="644.4" y="571" dy=".36em" transform="rotate(-90 644.4 571)">U4</text>
<text class="f" x="956" y="956" dy=".36em" transform="rotate(-90 956 956)">U1</text>
<text class="s" x="1268.7" y="956.2" dy=".36em" transform="rotate(-90 1268.7 956.2)">63C09</text>
<text class="f" x="644.4" y="956" dy=".36em" transform="rotate(-90 644.4 956)">63C09</text>
<text class="s" x="644.4" y="960" dy=".36em" transform="rotate(-90 644.4 960)">U1</text>
<text class="s" x="478" y="231.5" dy=".36em">C11</text>
<text class="f" x="478" y="231.5" dy=".36em">47pF</text>
<text class="f" x="478" y="261.3" dy=".36em">C11</text>
<text class="s" x="479.5" y="291" dy=".36em">47pF</text>
<text class="s" x="444.5" y="326" dy=".36em" transform="rotate(-90 444.5 326)">C12</text>
<text class="s" x="519" y="326" dy=".36em" transform="rotate(-90 519 326)">18pF</text>
<text class="f" x="478" y="326" dy=".36em" transform="rotate(-90 478 326)" style="font-size:12px;">C12</text>
<text class="f" x="478" y="326" dy=".36em" transform="rotate(-90 478 326)" style="font-size:12px;">18pF</text>
<text class="s" x="419.5" y="402.6" dy=".36em" transform="rotate(-90 419.5 402.6)">C7</text>
<text class="s" x="493.4" y="402" dy=".36em" transform="rotate(-90 493.4 402)">0.1uF</text>
<text class="f" x="457.2" y="402.6" dy=".36em" transform="rotate(-90 457.2 402.6)" style="font-size:13px;">C7</text>
<text class="f" x="457.2" y="402.6" dy=".36em" transform="rotate(-90 457.2 402.6)" style="font-size:13px;">0.1uF</text>
<text class="s" x="580.3" y="293.6" dy=".36em" transform="rotate(-90 580.3 293.6)">R3</text>
<text class="s b" x="636.6" y="293.6" dy=".36em" transform="rotate(-90 636.6 293.6)">1M</text>
<text class="s" x="743.7" y="225.5" dy=".36em">X2</text>
<text class="f" x="745.5" y="225.5" dy=".36em">1.8432 MHz</text>
<text class="f" x="743.7" y="267" dy=".36em">X2</text>
<text class="s" x="745.5" y="309" dy=".36em">1.8432 MHz</text>
<text class="s" x="685.7" y="382" dy=".36em" transform="rotate(-90 685.7 382)">R2</text>
<text class="f" x="685.7" y="382" dy=".36em" transform="rotate(-90 685.7 382)" style="letter-spacing:-1px">1.5k</text>
<text class="s" x="740.8" y="382" dy=".36em" transform="rotate(-90 740.8 382)" style="letter-spacing:-1px">1.5k</text>
<text class="f" x="740.8" y="382" dy=".36em" transform="rotate(-90 740.8 382)">R2</text>
<text class="s" x="822" y="370.2" dy=".36em" transform="rotate(-90 822 370.2)">R5</text>
<text class="s b" x="878.8" y="370" dy=".36em" transform="rotate(-90 878.8 370)">100K</text>
<text class="s" x="867.6" y="267.5" dy=".36em" transform="rotate(-90 867.6 267.5)">J2</text>
<text class="f" x="867.6" y="267.5" dy=".36em" transform="rotate(-90 867.6 267.5)">FTD</text>
<text class="f" x="970" y="267.5" dy=".36em">J2</text>
<text class="s" x="1071.8" y="268" dy=".36em" transform="rotate(-90 1071.8 268)">FTD</text>
<text class="s" x="1316.4" y="246.4" dy=".36em">SW1</text>
<text class="f" x="1316.4" y="296.4" dy=".36em">SW1</text>
<text class="f" x="1316.4" y="296.4" dy=".36em">B3F-1000</text>
<text class="s" x="1196.9" y="338.3" dy=".36em" transform="rotate(-90 1196.9 338.3)">R9</text>
<text class="s b" x="1253.8" y="338" dy=".36em" transform="rotate(-90 1253.8 338)">100K</text>
<text class="s" x="1320.5" y="350.5" dy=".36em">C16</text>
<text class="s" x="1320.5" y="421" dy=".36em">0.1uF</text>
<text class="f" x="1319" y="385.1" dy=".36em" style="font-size:13px;">C16</text>
<text class="f" x="1319" y="385.1" dy=".36em" style="font-size:13px;">0.1uF</text>
<text class="s" x="565.2" y="509" dy=".36em" transform="rotate(-90 565.2 509)">R7</text>
<text class="f" x="565.2" y="509" dy=".36em" transform="rotate(-90 565.2 509)">100K</text>
<text class="s b" x="620.2" y="509" dy=".36em" transform="rotate(-90 620.2 509)">100K</text>
<text class="f" x="620.2" y="509" dy=".36em" transform="rotate(-90 620.2 509)">R7</text>
<text class="s" x="1278" y="618.3" dy=".36em" transform="rotate(-90 1278 618.3)">C2</text>
<text class="s" x="1346" y="615.5" dy=".36em" transform="rotate(-90 1346 615.5)">0.1uF</text>
<text class="f" x="1310.8" y="618.3" dy=".36em" transform="rotate(-90 1310.8 618.3)" style="font-size:13px;">C2</text>
<text class="f" x="1310.8" y="618.3" dy=".36em" transform="rotate(-90 1310.8 618.3)" style="font-size:13px;">0.1uF</text>
<text class="s" x="1334.1" y="694.8" dy=".36em">C9</text>
<text class="s" x="1381.5" y="694.8" dy=".36em">C8</text>
<text class="s" x="1334.1" y="766.6" dy=".36em">24pF</text>
<text class="s" x="1381.5" y="766.6" dy=".36em">24pF</text>
<text class="f" x="1334.1" y="732.3" dy=".36em" transform="rotate(-90 1334.1 732.3)" style="font-size:11px;">C9</text>
<text class="f" x="1334.1" y="732.3" dy=".36em" transform="rotate(-90 1334.1 732.3)" style="font-size:11px;">24pF</text>
<text class="f" x="1381.5" y="732.3" dy=".36em" transform="rotate(-90 1381.5 732.3)" style="font-size:11px;">C8</text>
<text class="f" x="1381.5" y="732.3" dy=".36em" transform="rotate(-90 1381.5 732.3)" style="font-size:11px;">24pF</text>
<text class="s" x="1217.3" y="758" dy=".36em" transform="rotate(-90 1217.3 758)">R4</text>
<text class="s b" x="1274.2" y="758" dy=".36em" transform="rotate(-90 1274.2 758)">100K</text>
<text class="s" x="1153.8" y="775.8" dy=".36em">C1</text>
<text class="s" x="1213.5" y="811.2" dy=".36em">0.1uF</text>
<text class="f" x="1153.3" y="810.3" dy=".36em" style="font-size:13px;">C1</text>
<text class="f" x="1153.3" y="810.3" dy=".36em" style="font-size:13px;">0.1uF</text>
<text class="s" x="1358.2" y="816.4" dy=".36em">X1</text>
<text class="f" x="1358.2" y="816.4" dy=".36em">12MHz</text>
<text class="f" x="1357.8" y="857.4" dy=".36em">X1</text>
<text class="s" x="1359.7" y="899.3" dy=".36em">12MHz</text>
<text class="s" x="415.8" y="784.1" dy=".36em" transform="rotate(-90 415.8 784.1)">C6</text>
<text class="f" x="451.6" y="783.5" dy=".36em" transform="rotate(-90 451.6 783.5)" style="font-size:13px;">C6</text>
<text class="f" x="451.6" y="783.5" dy=".36em" transform="rotate(-90 451.6 783.5)" style="font-size:13px;">0.1uF</text>
<text class="s" x="413.5" y="1176" dy=".36em" transform="rotate(-90 413.5 1176)">C5</text>
<text class="f" x="448.4" y="1178.3" dy=".36em" transform="rotate(-90 448.4 1178.3)" style="font-size:13px;">C5</text>
<text class="f" x="448.4" y="1178.3" dy=".36em" transform="rotate(-90 448.4 1178.3)" style="font-size:13px;">0.1uF</text>
<text class="s b" x="640.1" y="1182.3" dy=".36em" transform="rotate(-90 640.1 1182.3)">100K</text>
<text class="s" x="695.1" y="1182.3" dy=".36em" transform="rotate(-90 695.1 1182.3)">R8</text>
<text class="s b" x="1271.8" y="1072.5" dy=".36em" transform="rotate(-90 1271.8 1072.5)">100K</text>
<text class="s" x="1326.8" y="1072.5" dy=".36em" transform="rotate(-90 1326.8 1072.5)">R6</text>
<text class="s" x="1186" y="1209.2" dy=".36em">C4</text>
<text class="s" x="1188" y="1277" dy=".36em">0.1uF</text>
<text class="f" x="1185.6" y="1241.6" dy=".36em" style="font-size:13px;">C4</text>
<text class="f" x="1185.6" y="1241.6" dy=".36em" style="font-size:13px;">0.1uF</text>
<text class="s" x="355" y="1548.8" dy=".36em" transform="rotate(-90 355 1548.8)">J1</text>
<text class="s b" x="442.1" y="1548.8" dy=".36em" transform="rotate(-90 442.1 1548.8)">PWR</text>
<text class="f" x="398.7" y="1548.8" dy=".36em" style="font-size:9px;">J1</text>
<text class="s" x="398.3" y="1584.2" dy=".36em">C15</text>
<text class="s" x="466.4" y="1613.5" dy=".36em">0.01uF</text>
<text class="f" x="398" y="1613.5" dy=".36em" style="font-size:13px;">C15</text>
<text class="f" x="398" y="1613.5" dy=".36em" style="font-size:13px;">0.01uF</text>
<text class="s" x="399.8" y="1645.8" dy=".36em">C14</text>
<text class="s" x="469.2" y="1678.8" dy=".36em">0.1uF</text>
<text class="f" x="399.3" y="1678.8" dy=".36em" style="font-size:13px;">C14</text>
<text class="f" x="399.3" y="1678.8" dy=".36em" style="font-size:13px;">0.1uF</text>
<text class="s" x="400.6" y="1717" dy=".36em">C13</text>
<text class="s" x="475.2" y="1755.2" dy=".36em">1uF</text>
<text class="f" x="400.7" y="1755.2" dy=".36em">C13</text>
<text class="f" x="400.7" y="1755.2" dy=".36em">1uF</text>
<text class="s" x="687.3" y="1776.4" dy=".36em">0.1uF</text>
<text class="s" x="751.8" y="1811.2" dy=".36em">C3</text>
<text class="f" x="751.5" y="1776.4" dy=".36em" style="font-size:13px;">C3</text>
<text class="f" x="751.5" y="1776.4" dy=".36em" style="font-size:13px;">0.1uF</text>
</g>
<g id="fcu">
<path d="M461.5 476.5 L446 492 L365.7 492 L319.4 538.3 L319.4 666.8 L451.6 798.4" stroke="#C83434" stroke-width="5.2" />
<path d="M371.5 476.5 L385.4 462.6 L639.6 462.6 L850 252.2 L1281.4 252.2 L1304.1 274.9 L1304.1 385.1" stroke="#C83434" stroke-width="2.6" />
<path d="M371.5 506.5 L324.4 553.6 L324.4 663.1 L374.5 713.2 L906.7 713.2 L946.7 673.2 L1077.3 673.2 L1091.2 659.5" stroke="#C83434" stroke-width="2.6" />
<path d="M371.5 536.5 L444.7 609.7 L560 609.7 L649 698.5 L902.5 698.5 L941.2 659.5" stroke="#C83434" stroke-width="2.6" />
<path d="M371.5 566.5 L448.5 643.5 L561.7 643.5 L613.8 695.4" stroke="#C83434" stroke-width="2.6" />
<path d="M507.6 261.3 L512 264.1 L710.5 264.1 L714.9 266.7" stroke="#C83434" stroke-width="2.6" />
<path d="M492.9 325.9 L497 323.9 L715.2 323.9 L772.4 266.7" stroke="#C83434" stroke-width="2.6" />
<path d="M366.9 867.4 L379.8 854.5 L599.5 854.5 L672.9 927.7 L672.9 966.5" stroke="#C83434" stroke-width="2.6" />
<path d="M366.9 897.4 L380.9 883.8 L619.2 883.8 L655 919.3" stroke="#C83434" stroke-width="2.6" />
<path d="M671.2 479.6 L795.1 603.2 L1310.8 603.4" stroke="#C83434" stroke-width="5.2" />
<path d="M849.9 400.3 L849.9 447.5 L881.2 479.6" stroke="#C83434" stroke-width="2.6" />
<path d="M848.6 447.5 L685.5 447.5 L658.4 474.5 L658.4 646.6 L671.2 659.5" stroke="#C83434" stroke-width="2.6" />
<path d="M881.2 479.6 L911.2 479.6" stroke="#C83434" stroke-width="2.6" />
<path d="M821.2 479.6 L834.4 492.7 L988.3 492.7 L1001.2 479.6" stroke="#C83434" stroke-width="2.6" />
<path d="M1151.2 659.5 L1181.2 659.5" stroke="#C83434" stroke-width="2.6" />
<path d="M675.9 621.5 L747 621.5 L770.5 598" stroke="#C83434" stroke-width="2.6" />
<path d="M861.9 801.8 L923.7 739.5 L938.6 739.5" stroke="#C83434" stroke-width="2.6" />
<path d="M988.8 710.2 L834.8 864.2 L834.8 973.6 L760.7 1046.5" stroke="#C83434" stroke-width="2.6" />
<path d="M1018.6 710.2 L864.6 864.2 L864.6 973.6 L790.7 1046.5" stroke="#C83434" stroke-width="2.6" />
<path d="M1048.3 710.2 L894.5 864 L894.5 973.6 L820.7 1046.5" stroke="#C83434" stroke-width="2.6" />
<path d="M1080.1 710.2 L924.3 866 L924.3 973.6 L850.7 1046.5" stroke="#C83434" stroke-width="2.6" />
<path d="M1107 710.2 L954.2 863 L954.2 973.6 L880.7 1046.5" stroke="#C83434" stroke-width="2.6" />
<path d="M1139.3 710.2 L984 865.5 L984 973.6 L910.7 1046.5" stroke="#C83434" stroke-width="2.6" />
<path d="M1166.1 710.2 L1013.9 862.4 L1013.9 973.6 L940.7 1046.5" stroke="#C83434" stroke-width="2.6" />
<path d="M1196 710.2 L1043.8 862.5 L1043.8 973.6 L970.7 1046.5" stroke="#C83434" stroke-width="2.6" />
<path d="M849.9 340.3 L1156.8 340.3 L1227.6 269.9 L1278.2 269.9" stroke="#C83434" stroke-width="5.2" />
<path d="M1225.2 269.9 L1225.2 308.1" stroke="#C83434" stroke-width="5.2" />
<path d="M986.5 267.2 L913.4 340.3" stroke="#C83434" stroke-width="5.2" />
<path d="M1156.8 340.3 L1323.8 507.2 L1323.8 620 L1310.8 633.2 L1267.8 633.2 L1241.2 659.5 L1241.2 707 L1138.2 810.3 L1116.3 810.3 L1060.7 866.4 L1060.7 996 L1015.6 1041 L1015.6 1056.6 L1141.3 1181.2 L1200.6 1181.2 L1200.6 1241.6" stroke="#C83434" stroke-width="5.2" />
<path d="M1200.6 1181.2 L1278.3 1102.9 L1298.9 1102.9" stroke="#C83434" stroke-width="5.2" />
<path d="M1168.4 810.3 L1184.4 810.3 L1240.7 866.4" stroke="#C83434" stroke-width="5.2" />
<path d="M1354.8 322.9 L1355.4 363.5 L1333.9 385.1" stroke="#C83434" stroke-width="5.2" />
<path d="M1225.2 368.2 L1241.6 385.1 L1304.1 385.1" stroke="#C83434" stroke-width="2.6" />
<path d="M1225.2 368.2 L1417.5 560.4 L1417.5 960.5 L1298.9 1079.4 L1183.5 1079.4 L1150.7 1046.5" stroke="#C83434" stroke-width="2.6" />
<path d="M1240.7 1046.5 L1285 1046.4 L1298.9 1043" stroke="#C83434" stroke-width="2.6" />
<path d="M1150.7 866.4 L1150.8 990.4 L1184.9 990.4 L1240.7 1046.5" stroke="#C83434" stroke-width="2.6" />
<path d="M1150.8 990.4 L1107.5 1033.6 L1043.5 1033.6 L1030.7 1046.5" stroke="#C83434" stroke-width="2.6" />
<path d="M1107.5 1033.6 L1120.7 1046.5" stroke="#C83434" stroke-width="2.6" />
<path d="M1210.7 866.4 L1210.7 882.5 L1150.8 942.8" stroke="#C83434" stroke-width="2.6" />
<path d="M730.7 866.4 L687.2 910 L687.3 1105.9 L770.5 1188.4" stroke="#C83434" stroke-width="2.6" />
<path d="M687.2 983.7 L369.7 1301.2 L362.2 1309" stroke="#C83434" stroke-width="2.6" />
<path d="M760.7 866.4 L717.4 910 L717.3 1108.7 L782.1 1173.4" stroke="#C83434" stroke-width="2.6" />
<path d="M790.7 866.4 L747.3 910 L747.4 1112.2 L793.8 1158.7" stroke="#C83434" stroke-width="2.6" />
<path d="M730.3 1012.6 L730.7 1046.5" stroke="#C83434" stroke-width="2.6" />
<path d="M655 919.3 L362.2 1212.5 L362.2 1249" stroke="#C83434" stroke-width="2.6" />
<path d="M655 943.2 L375 1223.2 L375 1266.2 L362.2 1279" stroke="#C83434" stroke-width="2.6" />
<path d="M1000.7 1046.5 L1000.4 1145.3 L855.9 1290.2 L841.4 1290" stroke="#C83434" stroke-width="2.6" />
<path d="M1000.4 1145.3 L1192.2 1337.1 L1204.3 1349.6" stroke="#C83434" stroke-width="2.6" />
<path d="M670.7 1046.5 L680.7 1056.6 L680.7 1175.1 L807.9 1302.7 L1128.1 1302.8 L1204.3 1379.6" stroke="#C83434" stroke-width="2.6" />
<path d="M680.7 1175.1 L503 1352 L356.6 1352 L349.4 1359.3 L349.4 1385.6 L362.2 1399" stroke="#C83434" stroke-width="2.6" />
<path d="M700.7 1046.5 L695 1054 L695 1102.7 L825.7 1232.6 L876.5 1232.6" stroke="#C83434" stroke-width="2.6" />
<path d="M702.4 1082.1 L702.4 1103.1 L783.8 1185.3 L826.4 1185.3" stroke="#C83434" stroke-width="2.6" />
<path d="M664 1093.8 L588.8 1093.8 L438.7 1243.9 L438.7 1262.2 L362.2 1339" stroke="#C83434" stroke-width="2.6" />
<path d="M664 1120.6 L452.2 1339" stroke="#C83434" stroke-width="2.6" />
<path d="M1200.6 1241.6 L1204.3 1319.6" stroke="#C83434" stroke-width="5.2" />
<path d="M1200.6 1241.6 L1242.6 1273.8 L1244.2 1741.8 L1209.7 1776.4 L766.4 1776.4" stroke="#C83434" stroke-width="5.2" />
<path d="M370.6 1755.2 L404 1788.6 L754.5 1788.6 L766.4 1776.4" stroke="#C83434" stroke-width="5.2" />
<path d="M661.4 1710 L675.5 1724" stroke="#C83434" stroke-width="5.2" />
<path d="M366.9 927.4 L323.8 969 L324.4 1460.6 L362.5 1498.2 L607.6 1498.2 L655.9 1546.7 L1190.9 1545.8 L1204.3 1559.6" stroke="#C83434" stroke-width="2.6" />
<path d="M362.2 1369 L375.8 1382.2 L630.2 1382.2 L661.4 1350" stroke="#C83434" stroke-width="2.6" />
<path d="M519.4 1398.2 L605.1 1483.8 L663.3 1483.8 L680.1 1500 L841.4 1500" stroke="#C83434" stroke-width="2.6" />
<path d="M661.4 1350 L674.5 1363.3 L847 1363.3 L860.3 1350 L1024.3 1349.6" stroke="#C83434" stroke-width="2.6" />
<path d="M661.4 1380 L674.5 1393.3 L852.6 1393.3 L865.9 1380 L1024.3 1379.6" stroke="#C83434" stroke-width="2.6" />
<path d="M661.4 1410 L674.5 1423.3 L847 1423.3 L860.3 1410 L1024.3 1409.6" stroke="#C83434" stroke-width="2.6" />
<path d="M661.4 1440 L674.5 1453.3 L847 1453.3 L860.3 1440 L1024.3 1439.6" stroke="#C83434" stroke-width="2.6" />
<path d="M841.4 1350 L871.7 1319.3 L1024.3 1319.6" stroke="#C83434" stroke-width="2.6" />
<path d="M841.4 1380 L855 1366.7 L1191.1 1366.7 L1204.3 1379.6" stroke="#C83434" stroke-width="2.6" />
<path d="M841.4 1410 L855 1396.7 L1191.1 1396.7 L1204.3 1409.6" stroke="#C83434" stroke-width="2.6" />
<path d="M841.4 1440 L855 1426.7 L1191.1 1426.7 L1204.3 1439.6" stroke="#C83434" stroke-width="2.6" />
<path d="M841.4 1470 L855 1456.7 L1191.1 1456.7 L1204.3 1469.6" stroke="#C83434" stroke-width="2.6" />
<path d="M661.4 1470 L677.5 1486.5 L1007.8 1486.5 L1024.3 1469.6" stroke="#C83434" stroke-width="2.6" />
<path d="M661.4 1500 L674.5 1513.2 L1011 1513.2 L1024.3 1499.6" stroke="#C83434" stroke-width="2.6" />
<path d="M841.4 1530 L1006 1529.8 L1018.5 1516.5 L1191.1 1516.3 L1204.3 1529.6" stroke="#C83434" stroke-width="2.6" />
<path d="M661.4 1530 L674.5 1543.3 L1010.6 1543.3 L1024.3 1529.6" stroke="#C83434" stroke-width="2.6" />
<path d="M661.4 1560 L674.5 1573.2 L849.8 1573.2 L863 1559.9 L1024.3 1559.6" stroke="#C83434" stroke-width="2.6" />
<path d="M841.4 1590 L854.5 1576.6 L1191.1 1576.6 L1204.3 1589.6" stroke="#C83434" stroke-width="2.6" />
<path d="M661.4 1590 L674.5 1603.2 L847.3 1603.2 L860.5 1589.8 L1024.3 1589.6" stroke="#C83434" stroke-width="2.6" />
<path d="M841.4 1620 L854.5 1606.7 L1191.1 1606.5 L1204.3 1619.6" stroke="#C83434" stroke-width="2.6" />
<path d="M661.4 1620 L674.5 1633.2 L1010.6 1633 L1024.3 1619.6" stroke="#C83434" stroke-width="2.6" />
<path d="M841.4 1650 L1001.3 1650.1 L1018.5 1632.6 L1187.6 1632.6 L1204.3 1649.6" stroke="#C83434" stroke-width="2.6" />
<path d="M661.4 1650 L674.5 1663.3 L1010.6 1663.3 L1024.3 1649.6" stroke="#C83434" stroke-width="2.6" />
<path d="M841.4 1680 L1006 1680 L1018.5 1666.3 L1191.1 1666.2 L1204.3 1679.6" stroke="#C83434" stroke-width="2.6" />
<path d="M661.4 1680 L674.5 1693.2 L1010.6 1693.1 L1024.3 1679.6" stroke="#C83434" stroke-width="2.6" />
<path d="M841.4 1710 L1006 1709.8 L1018.5 1696.8 L1191.1 1696.8 L1204.3 1709.6" stroke="#C83434" stroke-width="2.6" />
</g>
<g id="via">
<circle cx="988.8" cy="710.2" r="2.7"/>
<circle cx="1018.6" cy="710.2" r="2.7"/>
<circle cx="1048.3" cy="710.2" r="2.7"/>
<circle cx="1080.1" cy="710.2" r="2.7"/>
<circle cx="1107" cy="710.2" r="2.7"/>
<circle cx="1139.3" cy="710.2" r="2.7"/>
<circle cx="1166.1" cy="710.2" r="2.7"/>
<circle cx="1196" cy="710.2" r="2.7"/>
<circle cx="681.7" cy="577.1" r="2.7"/>
<circle cx="723.1" cy="574.1" r="2.7"/>
<circle cx="770.5" cy="598" r="2.7"/>
<circle cx="675.9" cy="621.5" r="2.7"/>
<circle cx="687.7" cy="683.5" r="2.7"/>
<circle cx="805.8" cy="683.5" r="2.7"/>
<circle cx="838.3" cy="683.5" r="2.7"/>
<circle cx="897.2" cy="417.7" r="2.7"/>
<circle cx="941.6" cy="426.7" r="2.7"/>
<circle cx="974.3" cy="426.7" r="2.7"/>
<circle cx="1044.8" cy="426.7" r="2.7"/>
<circle cx="1145.3" cy="406" r="2.7"/>
<circle cx="1006.5" cy="530" r="2.7"/>
<circle cx="1036.2" cy="530" r="2.7"/>
<circle cx="1062.5" cy="530" r="2.7"/>
<circle cx="1095.1" cy="530" r="2.7"/>
<circle cx="1154.2" cy="530" r="2.7"/>
<circle cx="900" cy="562.6" r="2.7"/>
<circle cx="1204.4" cy="441.4" r="2.7"/>
<circle cx="1287" cy="450.3" r="2.7"/>
<circle cx="1387.2" cy="426.7" r="2.7"/>
<circle cx="1402.1" cy="464.9" r="2.7"/>
<circle cx="1186.3" cy="530" r="2.7"/>
<circle cx="1216.2" cy="530" r="2.7"/>
<circle cx="1284.1" cy="541.7" r="2.7"/>
<circle cx="1349.3" cy="556.3" r="2.7"/>
<circle cx="1375.6" cy="624.3" r="2.7"/>
<circle cx="941.4" cy="710.2" r="2.7"/>
<circle cx="938.6" cy="739.5" r="2.7"/>
<circle cx="1036.1" cy="766.3" r="2.7"/>
<circle cx="1095.2" cy="769.1" r="2.7"/>
<circle cx="1160.1" cy="766.1" r="2.7"/>
<circle cx="1204.3" cy="686.3" r="2.7"/>
<circle cx="861.9" cy="801.8" r="2.7"/>
<circle cx="613.8" cy="695.4" r="2.7"/>
<circle cx="655" cy="919.3" r="2.7"/>
<circle cx="655" cy="943.2" r="2.7"/>
<circle cx="672.9" cy="966.5" r="2.7"/>
<circle cx="705.3" cy="964.1" r="2.7"/>
<circle cx="734.8" cy="966.5" r="2.7"/>
<circle cx="746.5" cy="931.5" r="2.7"/>
<circle cx="717.1" cy="943.2" r="2.7"/>
<circle cx="776.2" cy="978.6" r="2.7"/>
<circle cx="802.8" cy="919.3" r="2.7"/>
<circle cx="847" cy="919.3" r="2.7"/>
<circle cx="876.5" cy="919.3" r="2.7"/>
<circle cx="730.3" cy="1012.6" r="2.7"/>
<circle cx="675.7" cy="1016.9" r="2.7"/>
<circle cx="699.3" cy="1020" r="2.7"/>
<circle cx="906.1" cy="919.9" r="2.7"/>
<circle cx="932.8" cy="919.9" r="2.7"/>
<circle cx="971" cy="922.5" r="2.7"/>
<circle cx="1030.1" cy="910.7" r="2.7"/>
<circle cx="1000.7" cy="946.2" r="2.7"/>
<circle cx="1027.3" cy="963.9" r="2.7"/>
<circle cx="1118.7" cy="907.8" r="2.7"/>
<circle cx="1171.8" cy="896" r="2.7"/>
<circle cx="1118.7" cy="975.6" r="2.7"/>
<circle cx="1027.3" cy="1008.5" r="2.7"/>
<circle cx="1174.6" cy="1008.5" r="2.7"/>
<circle cx="929.8" cy="1011.1" r="2.7"/>
<circle cx="950.3" cy="1023" r="2.7"/>
<circle cx="971" cy="1029" r="2.7"/>
<circle cx="566.2" cy="913.3" r="2.7"/>
<circle cx="498.6" cy="964" r="2.7"/>
<circle cx="338.9" cy="999.5" r="2.7"/>
<circle cx="421.6" cy="1037.9" r="2.7"/>
<circle cx="569.5" cy="1076" r="2.7"/>
<circle cx="516.1" cy="1111.6" r="2.7"/>
<circle cx="362.7" cy="1126.4" r="2.7"/>
<circle cx="566.2" cy="1162" r="2.7"/>
<circle cx="418.4" cy="1220.9" r="2.7"/>
<circle cx="498.6" cy="1229.6" r="2.7"/>
<circle cx="655.2" cy="1073" r="2.7"/>
<circle cx="675.8" cy="1017.1" r="2.7"/>
<circle cx="673.3" cy="967" r="2.7"/>
<circle cx="566.2" cy="1258.8" r="2.7"/>
<circle cx="513.6" cy="1300.2" r="2.7"/>
<circle cx="389.6" cy="1297.7" r="2.7"/>
<circle cx="419.1" cy="1306.5" r="2.7"/>
<circle cx="389.6" cy="1336" r="2.7"/>
<circle cx="566.2" cy="1338.5" r="2.7"/>
<circle cx="528.2" cy="1353.6" r="2.7"/>
<circle cx="341.4" cy="1365.4" r="2.7"/>
<circle cx="389.6" cy="1368.6" r="2.7"/>
<circle cx="484" cy="1368.6" r="2.7"/>
<circle cx="489.8" cy="1401" r="2.7"/>
<circle cx="519.4" cy="1398.2" r="2.7"/>
<circle cx="557.5" cy="1410" r="2.7"/>
<circle cx="419.1" cy="1424.8" r="2.7"/>
<circle cx="386.5" cy="1468.9" r="2.7"/>
<circle cx="519.4" cy="1468.9" r="2.7"/>
<circle cx="637.7" cy="1342" r="2.7"/>
<circle cx="625.9" cy="1359.6" r="2.7"/>
<circle cx="634.4" cy="1401" r="2.7"/>
<circle cx="625.9" cy="1418.7" r="2.7"/>
<circle cx="616.9" cy="1436" r="2.7"/>
<circle cx="634.4" cy="1498.2" r="2.7"/>
<circle cx="536.9" cy="1537" r="2.7"/>
<circle cx="596.3" cy="1539.5" r="2.7"/>
<circle cx="481" cy="1548.3" r="2.7"/>
<circle cx="693.3" cy="1223.8" r="2.7"/>
<circle cx="483.7" cy="1616.9" r="2.7"/>
<circle cx="554.6" cy="1613.5" r="2.7"/>
<circle cx="604.8" cy="1610.7" r="2.7"/>
<circle cx="433.8" cy="1648.9" r="2.7"/>
<circle cx="587.2" cy="1666.6" r="2.7"/>
<circle cx="489.3" cy="1678.8" r="2.7"/>
<circle cx="416" cy="1711" r="2.7"/>
<circle cx="622.5" cy="1719.8" r="2.7"/>
<circle cx="534.1" cy="1740.7" r="2.7"/>
<circle cx="643.3" cy="1752.4" r="2.7"/>
<circle cx="696.4" cy="1710.6" r="2.7"/>
<circle cx="829.4" cy="1743.3" r="2.7"/>
<circle cx="702.4" cy="1082.1" r="2.7"/>
<circle cx="732" cy="1080" r="2.7"/>
<circle cx="664" cy="1093.8" r="2.7"/>
<circle cx="695" cy="1102.7" r="2.7"/>
<circle cx="664" cy="1120.6" r="2.7"/>
<circle cx="793.8" cy="1158.7" r="2.7"/>
<circle cx="782.1" cy="1173.4" r="2.7"/>
<circle cx="770.5" cy="1188.4" r="2.7"/>
<circle cx="826.4" cy="1185.3" r="2.7"/>
<circle cx="876.5" cy="1232.6" r="2.7"/>
<circle cx="849.9" cy="1117.5" r="2.7"/>
<circle cx="876.5" cy="1111.7" r="2.7"/>
<circle cx="693.6" cy="1223.6" r="2.7"/>
<circle cx="655.2" cy="1073.1" r="2.7"/>
<circle cx="850.3" cy="1117.7" r="2.7"/>
<circle cx="926.7" cy="1117.7" r="2.7"/>
<circle cx="956.2" cy="1117.7" r="2.7"/>
<circle cx="988.6" cy="1114.7" r="2.7"/>
<circle cx="1033" cy="1132.4" r="2.7"/>
<circle cx="1092.1" cy="1176.4" r="2.7"/>
<circle cx="1121.6" cy="1200.3" r="2.7"/>
<circle cx="1027" cy="1220.8" r="2.7"/>
<circle cx="956.2" cy="1250.4" r="2.7"/>
<circle cx="923.7" cy="1276.9" r="2.7"/>
<circle cx="1092.1" cy="1271" r="2.7"/>
<circle cx="879.5" cy="1318.7" r="2.7"/>
<circle cx="1156.5" cy="1318.3" r="2.7"/>
<circle cx="991.6" cy="1333.2" r="2.7"/>
<circle cx="879.5" cy="1471.6" r="2.7"/>
<circle cx="991.6" cy="1471.6" r="2.7"/>
<circle cx="991.6" cy="1501.6" r="2.7"/>
<circle cx="1156.5" cy="1348.1" r="2.7"/>
<circle cx="1156.5" cy="1383.4" r="2.7"/>
<circle cx="1156.5" cy="1412.8" r="2.7"/>
<circle cx="1156.5" cy="1439.3" r="2.7"/>
<circle cx="1156.5" cy="1477.7" r="2.7"/>
<circle cx="1154.2" cy="1531" r="2.7"/>
<circle cx="1189.7" cy="1280" r="2.7"/>
<circle cx="1225.1" cy="1294.7" r="2.7"/>
<circle cx="731.9" cy="1294.7" r="2.7"/>
<circle cx="817.5" cy="1277" r="2.7"/>
<circle cx="696.5" cy="1377.3" r="2.7"/>
<circle cx="696.5" cy="1404" r="2.7"/>
<circle cx="696.5" cy="1436.4" r="2.7"/>
<circle cx="696.5" cy="1471.8" r="2.7"/>
<circle cx="796.6" cy="1380.1" r="2.7"/>
<circle cx="787.9" cy="1436.4" r="2.7"/>
<circle cx="814.4" cy="1471.8" r="2.7"/>
<circle cx="923.8" cy="1277" r="2.7"/>
<circle cx="956.1" cy="1250.1" r="2.7"/>
<circle cx="696.5" cy="1524.9" r="2.7"/>
<circle cx="764.4" cy="1524.9" r="2.7"/>
<circle cx="808.8" cy="1527.7" r="2.7"/>
<circle cx="696.5" cy="1557.3" r="2.7"/>
<circle cx="696.5" cy="1584" r="2.7"/>
<circle cx="696.5" cy="1616.6" r="2.7"/>
<circle cx="696.5" cy="1646.1" r="2.7"/>
<circle cx="696.5" cy="1678.6" r="2.7"/>
<circle cx="696.5" cy="1709" r="2.7"/>
<circle cx="879.6" cy="1619.4" r="2.7"/>
<circle cx="923.8" cy="1619.4" r="2.7"/>
<circle cx="1071.2" cy="1590.1" r="2.7"/>
<circle cx="1115.6" cy="1560.4" r="2.7"/>
<circle cx="1154.2" cy="1563.3" r="2.7"/>
<circle cx="1154.2" cy="1592.9" r="2.7"/>
<circle cx="1154.2" cy="1619.3" r="2.7"/>
<circle cx="1154.2" cy="1652" r="2.7"/>
<circle cx="1154.2" cy="1684.5" r="2.7"/>
<circle cx="1112.8" cy="1643.2" r="2.7"/>
<circle cx="1059.7" cy="1658" r="2.7"/>
<circle cx="1065.5" cy="1707.9" r="2.7"/>
<circle cx="962.1" cy="1743.2" r="2.7"/>
<circle cx="1107" cy="1749.1" r="2.7"/>
<circle cx="416.3" cy="234.4" r="2.7"/>
<circle cx="586.9" cy="231.3" r="2.7"/>
<circle cx="823.6" cy="249.4" r="2.7"/>
<circle cx="395.3" cy="296.3" r="2.7"/>
<circle cx="542.9" cy="293.5" r="2.7"/>
<circle cx="749.5" cy="322.9" r="2.7"/>
<circle cx="516.3" cy="370.4" r="2.7"/>
<circle cx="622.6" cy="393.5" r="2.7"/>
<circle cx="802.7" cy="372.9" r="2.7"/>
<circle cx="400.9" cy="408.5" r="2.7"/>
<circle cx="817.7" cy="455.7" r="2.7"/>
<circle cx="433.8" cy="476.7" r="2.7"/>
<circle cx="631.3" cy="508.9" r="2.7"/>
<circle cx="433.8" cy="541.4" r="2.7"/>
<circle cx="522.2" cy="547.3" r="2.7"/>
<circle cx="345" cy="565.2" r="2.7"/>
<circle cx="421.9" cy="597.7" r="2.7"/>
<circle cx="598.8" cy="597.7" r="2.7"/>
<circle cx="525" cy="627.1" r="2.7"/>
<circle cx="412.8" cy="647.7" r="2.7"/>
<circle cx="528.2" cy="674.6" r="2.7"/>
<circle cx="917.7" cy="225.3" r="2.7"/>
<circle cx="1192.2" cy="222.5" r="2.7"/>
<circle cx="1331.3" cy="231.6" r="2.7"/>
<circle cx="1402" cy="264.1" r="2.7"/>
<circle cx="882.4" cy="296.3" r="2.7"/>
<circle cx="1133.4" cy="296.3" r="2.7"/>
<circle cx="1195.7" cy="332.7" r="2.7"/>
<circle cx="1260.4" cy="341" r="2.7"/>
<circle cx="1330.3" cy="343.8" r="2.7"/>
<circle cx="867" cy="683.4" r="2.7"/>
<circle cx="767" cy="751.2" r="2.7"/>
<circle cx="507.6" cy="772.2" r="2.7"/>
<circle cx="619.5" cy="775" r="2.7"/>
<circle cx="371.5" cy="789.7" r="2.7"/>
<circle cx="410.3" cy="869.4" r="2.7"/>
<circle cx="510.3" cy="869.4" r="2.7"/>
<circle cx="1363.5" cy="804.3" r="2.7"/>
<circle cx="1277.8" cy="833.7" r="2.7"/>
<circle cx="1210" cy="928.5" r="2.7"/>
<circle cx="1348.8" cy="975.7" r="2.7"/>
<circle cx="1221.9" cy="1102.6" r="2.7"/>
<circle cx="1174.7" cy="1132.3" r="2.7"/>
</g>
<g id="pad">
<rect class="p" x="362" y="467" width="19" height="19"/>
<circle class="h" cx="371.5" cy="476.5" r="4.8"/>
<circle class="p" cx="461.5" cy="476.5" r="9.5"/>
<circle class="h" cx="461.5" cy="476.5" r="4.8"/>
<circle class="p" cx="371.5" cy="506.5" r="9.5"/>
<circle class="h" cx="371.5" cy="506.5" r="4.8"/>
<circle class="p" cx="461.5" cy="506.5" r="9.5"/>
<circle class="h" cx="461.5" cy="506.5" r="4.8"/>
<circle class="p" cx="371.5" cy="536.5" r="9.5"/>
<circle class="h" cx="371.5" cy="536.5" r="4.8"/>
<circle class="p" cx="461.5" cy="536.5" r="9.5"/>
<circle class="h" cx="461.5" cy="536.5" r="4.8"/>
<circle class="p" cx="371.5" cy="566.5" r="9.5"/>
<circle class="h" cx="371.5" cy="566.5" r="4.8"/>
<circle class="p" cx="461.5" cy="566.5" r="9.5"/>
<circle class="h" cx="461.5" cy="566.5" r="4.8"/>
<circle class="p" cx="371.5" cy="596.5" r="9.5"/>
<circle class="h" cx="371.5" cy="596.5" r="4.8"/>
<circle class="p" cx="461.5" cy="596.5" r="9.5"/>
<circle class="h" cx="461.5" cy="596.5" r="4.8"/>
<circle class="p" cx="371.5" cy="626.5" r="9.5"/>
<circle class="h" cx="371.5" cy="626.5" r="4.8"/>
<circle class="p" cx="461.5" cy="626.5" r="9.5"/>
<circle class="h" cx="461.5" cy="626.5" r="4.8"/>
<circle class="p" cx="371.5" cy="656.5" r="9.5"/>
<circle class="h" cx="371.5" cy="656.5" r="4.8"/>
<circle class="p" cx="461.5" cy="656.5" r="9.5"/>
<circle class="h" cx="461.5" cy="656.5" r="4.8"/>
<rect class="p" x="357.4" y="857.9" width="19" height="19"/>
<circle class="h" cx="366.9" cy="867.4" r="4.8"/>
<circle class="p" cx="456.9" cy="867.4" r="9.5"/>
<circle class="h" cx="456.9" cy="867.4" r="4.8"/>
<circle class="p" cx="366.9" cy="897.4" r="9.5"/>
<circle class="h" cx="366.9" cy="897.4" r="4.8"/>
<circle class="p" cx="456.9" cy="897.4" r="9.5"/>
<circle class="h" cx="456.9" cy="897.4" r="4.8"/>
<circle class="p" cx="366.9" cy="927.4" r="9.5"/>
<circle class="h" cx="366.9" cy="927.4" r="4.8"/>
<circle class="p" cx="456.9" cy="927.4" r="9.5"/>
<circle class="h" cx="456.9" cy="927.4" r="4.8"/>
<circle class="p" cx="366.9" cy="957.4" r="9.5"/>
<circle class="h" cx="366.9" cy="957.4" r="4.8"/>
<circle class="p" cx="456.9" cy="957.4" r="9.5"/>
<circle class="h" cx="456.9" cy="957.4" r="4.8"/>
<circle class="p" cx="366.9" cy="987.4" r="9.5"/>
<circle class="h" cx="366.9" cy="987.4" r="4.8"/>
<circle class="p" cx="456.9" cy="987.4" r="9.5"/>
<circle class="h" cx="456.9" cy="987.4" r="4.8"/>
<circle class="p" cx="366.9" cy="1017.4" r="9.5"/>
<circle class="h" cx="366.9" cy="1017.4" r="4.8"/>
<circle class="p" cx="456.9" cy="1017.4" r="9.5"/>
<circle class="h" cx="456.9" cy="1017.4" r="4.8"/>
<circle class="p" cx="366.9" cy="1047.4" r="9.5"/>
<circle class="h" cx="366.9" cy="1047.4" r="4.8"/>
<circle class="p" cx="456.9" cy="1047.4" r="9.5"/>
<circle class="h" cx="456.9" cy="1047.4" r="4.8"/>
<rect class="p" x="352.7" y="1239.5" width="19" height="19"/>
<circle class="h" cx="362.2" cy="1249" r="4.8"/>
<circle class="p" cx="452.2" cy="1249" r="9.5"/>
<circle class="h" cx="452.2" cy="1249" r="4.8"/>
<circle class="p" cx="362.2" cy="1279" r="9.5"/>
<circle class="h" cx="362.2" cy="1279" r="4.8"/>
<circle class="p" cx="452.2" cy="1279" r="9.5"/>
<circle class="h" cx="452.2" cy="1279" r="4.8"/>
<circle class="p" cx="362.2" cy="1309" r="9.5"/>
<circle class="h" cx="362.2" cy="1309" r="4.8"/>
<circle class="p" cx="452.2" cy="1309" r="9.5"/>
<circle class="h" cx="452.2" cy="1309" r="4.8"/>
<circle class="p" cx="362.2" cy="1339" r="9.5"/>
<circle class="h" cx="362.2" cy="1339" r="4.8"/>
<circle class="p" cx="452.2" cy="1339" r="9.5"/>
<circle class="h" cx="452.2" cy="1339" r="4.8"/>
<circle class="p" cx="362.2" cy="1369" r="9.5"/>
<circle class="h" cx="362.2" cy="1369" r="4.8"/>
<circle class="p" cx="452.2" cy="1369" r="9.5"/>
<circle class="h" cx="452.2" cy="1369" r="4.8"/>
<circle class="p" cx="362.2" cy="1399" r="9.5"/>
<circle class="h" cx="362.2" cy="1399" r="4.8"/>
<circle class="p" cx="452.2" cy="1399" r="9.5"/>
<circle class="h" cx="452.2" cy="1399" r="4.8"/>
<circle class="p" cx="362.2" cy="1429" r="9.5"/>
<circle class="h" cx="362.2" cy="1429" r="4.8"/>
<circle class="p" cx="452.2" cy="1429" r="9.5"/>
<circle class="h" cx="452.2" cy="1429" r="4.8"/>
<rect class="p" x="1231.7" y="470" width="19" height="19"/>
<circle class="h" cx="1241.2" cy="479.5" r="4.8"/>
<circle class="p" cx="1241.2" cy="659.5" r="9.5"/>
<circle class="h" cx="1241.2" cy="659.5" r="4.8"/>
<circle class="p" cx="1211.2" cy="479.5" r="9.5"/>
<circle class="h" cx="1211.2" cy="479.5" r="4.8"/>
<circle class="p" cx="1211.2" cy="659.5" r="9.5"/>
<circle class="h" cx="1211.2" cy="659.5" r="4.8"/>
<circle class="p" cx="1181.2" cy="479.5" r="9.5"/>
<circle class="h" cx="1181.2" cy="479.5" r="4.8"/>
<circle class="p" cx="1181.2" cy="659.5" r="9.5"/>
<circle class="h" cx="1181.2" cy="659.5" r="4.8"/>
<circle class="p" cx="1151.2" cy="479.5" r="9.5"/>
<circle class="h" cx="1151.2" cy="479.5" r="4.8"/>
<circle class="p" cx="1151.2" cy="659.5" r="9.5"/>
<circle class="h" cx="1151.2" cy="659.5" r="4.8"/>
<circle class="p" cx="1121.2" cy="479.5" r="9.5"/>
<circle class="h" cx="1121.2" cy="479.5" r="4.8"/>
<circle class="p" cx="1121.2" cy="659.5" r="9.5"/>
<circle class="h" cx="1121.2" cy="659.5" r="4.8"/>
<circle class="p" cx="1091.2" cy="479.5" r="9.5"/>
<circle class="h" cx="1091.2" cy="479.5" r="4.8"/>
<circle class="p" cx="1091.2" cy="659.5" r="9.5"/>
<circle class="h" cx="1091.2" cy="659.5" r="4.8"/>
<circle class="p" cx="1061.2" cy="479.5" r="9.5"/>
<circle class="h" cx="1061.2" cy="479.5" r="4.8"/>
<circle class="p" cx="1061.2" cy="659.5" r="9.5"/>
<circle class="h" cx="1061.2" cy="659.5" r="4.8"/>
<circle class="p" cx="1031.2" cy="479.5" r="9.5"/>
<circle class="h" cx="1031.2" cy="479.5" r="4.8"/>
<circle class="p" cx="1031.2" cy="659.5" r="9.5"/>
<circle class="h" cx="1031.2" cy="659.5" r="4.8"/>
<circle class="p" cx="1001.2" cy="479.5" r="9.5"/>
<circle class="h" cx="1001.2" cy="479.5" r="4.8"/>
<circle class="p" cx="1001.2" cy="659.5" r="9.5"/>
<circle class="h" cx="1001.2" cy="659.5" r="4.8"/>
<circle class="p" cx="971.2" cy="479.5" r="9.5"/>
<circle class="h" cx="971.2" cy="479.5" r="4.8"/>
<circle class="p" cx="971.2" cy="659.5" r="9.5"/>
<circle class="h" cx="971.2" cy="659.5" r="4.8"/>
<circle class="p" cx="941.2" cy="479.5" r="9.5"/>
<circle class="h" cx="941.2" cy="479.5" r="4.8"/>
<circle class="p" cx="941.2" cy="659.5" r="9.5"/>
<circle class="h" cx="941.2" cy="659.5" r="4.8"/>
<circle class="p" cx="911.2" cy="479.5" r="9.5"/>
<circle class="h" cx="911.2" cy="479.5" r="4.8"/>
<circle class="p" cx="911.2" cy="659.5" r="9.5"/>
<circle class="h" cx="911.2" cy="659.5" r="4.8"/>
<circle class="p" cx="881.2" cy="479.5" r="9.5"/>
<circle class="h" cx="881.2" cy="479.5" r="4.8"/>
<circle class="p" cx="881.2" cy="659.5" r="9.5"/>
<circle class="h" cx="881.2" cy="659.5" r="4.8"/>
<circle class="p" cx="851.2" cy="479.5" r="9.5"/>
<circle class="h" cx="851.2" cy="479.5" r="4.8"/>
<circle class="p" cx="851.2" cy="659.5" r="9.5"/>
<circle class="h" cx="851.2" cy="659.5" r="4.8"/>
<circle class="p" cx="821.2" cy="479.5" r="9.5"/>
<circle class="h" cx="821.2" cy="479.5" r="4.8"/>
<circle class="p" cx="821.2" cy="659.5" r="9.5"/>
<circle class="h" cx="821.2" cy="659.5" r="4.8"/>
<circle class="p" cx="791.2" cy="479.5" r="9.5"/>
<circle class="h" cx="791.2" cy="479.5" r="4.8"/>
<circle class="p" cx="791.2" cy="659.5" r="9.5"/>
<circle class="h" cx="791.2" cy="659.5" r="4.8"/>
<circle class="p" cx="761.2" cy="479.5" r="9.5"/>
<circle class="h" cx="761.2" cy="479.5" r="4.8"/>
<circle class="p" cx="761.2" cy="659.5" r="9.5"/>
<circle class="h" cx="761.2" cy="659.5" r="4.8"/>
<circle class="p" cx="731.2" cy="479.5" r="9.5"/>
<circle class="h" cx="731.2" cy="479.5" r="4.8"/>
<circle class="p" cx="731.2" cy="659.5" r="9.5"/>
<circle class="h" cx="731.2" cy="659.5" r="4.8"/>
<circle class="p" cx="701.2" cy="479.5" r="9.5"/>
<circle class="h" cx="701.2" cy="479.5" r="4.8"/>
<circle class="p" cx="701.2" cy="659.5" r="9.5"/>
<circle class="h" cx="701.2" cy="659.5" r="4.8"/>
<circle class="p" cx="671.2" cy="479.5" r="9.5"/>
<circle class="h" cx="671.2" cy="479.5" r="4.8"/>
<circle class="p" cx="671.2" cy="659.5" r="9.5"/>
<circle class="h" cx="671.2" cy="659.5" r="4.8"/>
<rect class="p" x="1231.2" y="856.8" width="19" height="19"/>
<circle class="h" cx="1240.7" cy="866.3" r="4.8"/>
<circle class="p" cx="1240.7" cy="1046.3" r="9.5"/>
<circle class="h" cx="1240.7" cy="1046.3" r="4.8"/>
<circle class="p" cx="1210.7" cy="866.3" r="9.5"/>
<circle class="h" cx="1210.7" cy="866.3" r="4.8"/>
<circle class="p" cx="1210.7" cy="1046.3" r="9.5"/>
<circle class="h" cx="1210.7" cy="1046.3" r="4.8"/>
<circle class="p" cx="1180.7" cy="866.3" r="9.5"/>
<circle class="h" cx="1180.7" cy="866.3" r="4.8"/>
<circle class="p" cx="1180.7" cy="1046.3" r="9.5"/>
<circle class="h" cx="1180.7" cy="1046.3" r="4.8"/>
<circle class="p" cx="1150.7" cy="866.3" r="9.5"/>
<circle class="h" cx="1150.7" cy="866.3" r="4.8"/>
<circle class="p" cx="1150.7" cy="1046.3" r="9.5"/>
<circle class="h" cx="1150.7" cy="1046.3" r="4.8"/>
<circle class="p" cx="1120.7" cy="866.3" r="9.5"/>
<circle class="h" cx="1120.7" cy="866.3" r="4.8"/>
<circle class="p" cx="1120.7" cy="1046.3" r="9.5"/>
<circle class="h" cx="1120.7" cy="1046.3" r="4.8"/>
<circle class="p" cx="1090.7" cy="866.3" r="9.5"/>
<circle class="h" cx="1090.7" cy="866.3" r="4.8"/>
<circle class="p" cx="1090.7" cy="1046.3" r="9.5"/>
<circle class="h" cx="1090.7" cy="1046.3" r="4.8"/>
<circle class="p" cx="1060.7" cy="866.3" r="9.5"/>
<circle class="h" cx="1060.7" cy="866.3" r="4.8"/>
<circle class="p" cx="1060.7" cy="1046.3" r="9.5"/>
<circle class="h" cx="1060.7" cy="1046.3" r="4.8"/>
<circle class="p" cx="1030.7" cy="866.3" r="9.5"/>
<circle class="h" cx="1030.7" cy="866.3" r="4.8"/>
<circle class="p" cx="1030.7" cy="1046.3" r="9.5"/>
<circle class="h" cx="1030.7" cy="1046.3" r="4.8"/>
<circle class="p" cx="1000.7" cy="866.3" r="9.5"/>
<circle class="h" cx="1000.7" cy="866.3" r="4.8"/>
<circle class="p" cx="1000.7" cy="1046.3" r="9.5"/>
<circle class="h" cx="1000.7" cy="1046.3" r="4.8"/>
<circle class="p" cx="970.7" cy="866.3" r="9.5"/>
<circle class="h" cx="970.7" cy="866.3" r="4.8"/>
<circle class="p" cx="970.7" cy="1046.3" r="9.5"/>
<circle class="h" cx="970.7" cy="1046.3" r="4.8"/>
<circle class="p" cx="940.7" cy="866.3" r="9.5"/>
<circle class="h" cx="940.7" cy="866.3" r="4.8"/>
<circle class="p" cx="940.7" cy="1046.3" r="9.5"/>
<circle class="h" cx="940.7" cy="1046.3" r="4.8"/>
<circle class="p" cx="910.7" cy="866.3" r="9.5"/>
<circle class="h" cx="910.7" cy="866.3" r="4.8"/>
<circle class="p" cx="910.7" cy="1046.3" r="9.5"/>
<circle class="h" cx="910.7" cy="1046.3" r="4.8"/>
<circle class="p" cx="880.7" cy="866.3" r="9.5"/>
<circle class="h" cx="880.7" cy="866.3" r="4.8"/>
<circle class="p" cx="880.7" cy="1046.3" r="9.5"/>
<circle class="h" cx="880.7" cy="1046.3" r="4.8"/>
<circle class="p" cx="850.7" cy="866.3" r="9.5"/>
<circle class="h" cx="850.7" cy="866.3" r="4.8"/>
<circle class="p" cx="850.7" cy="1046.3" r="9.5"/>
<circle class="h" cx="850.7" cy="1046.3" r="4.8"/>
<circle class="p" cx="820.7" cy="866.3" r="9.5"/>
<circle class="h" cx="820.7" cy="866.3" r="4.8"/>
<circle class="p" cx="820.7" cy="1046.3" r="9.5"/>
<circle class="h" cx="820.7" cy="1046.3" r="4.8"/>
<circle class="p" cx="790.7" cy="866.3" r="9.5"/>
<circle class="h" cx="790.7" cy="866.3" r="4.8"/>
<circle class="p" cx="790.7" cy="1046.3" r="9.5"/>
<circle class="h" cx="790.7" cy="1046.3" r="4.8"/>
<circle class="p" cx="760.7" cy="866.3" r="9.5"/>
<circle class="h" cx="760.7" cy="866.3" r="4.8"/>
<circle class="p" cx="760.7" cy="1046.3" r="9.5"/>
<circle class="h" cx="760.7" cy="1046.3" r="4.8"/>
<circle class="p" cx="730.7" cy="866.3" r="9.5"/>
<circle class="h" cx="730.7" cy="866.3" r="4.8"/>
<circle class="p" cx="730.7" cy="1046.3" r="9.5"/>
<circle class="h" cx="730.7" cy="1046.3" r="4.8"/>
<circle class="p" cx="700.7" cy="866.3" r="9.5"/>
<circle class="h" cx="700.7" cy="866.3" r="4.8"/>
<circle class="p" cx="700.7" cy="1046.3" r="9.5"/>
<circle class="h" cx="700.7" cy="1046.3" r="4.8"/>
<circle class="p" cx="670.7" cy="866.3" r="9.5"/>
<circle class="h" cx="670.7" cy="866.3" r="4.8"/>
<circle class="p" cx="670.7" cy="1046.3" r="9.5"/>
<circle class="h" cx="670.7" cy="1046.3" r="4.8"/>
<rect class="p" x="651.9" y="1250.5" width="19" height="19"/>
<circle class="h" cx="661.4" cy="1260" r="4.8"/>
<circle class="p" cx="841.4" cy="1260" r="9.5"/>
<circle class="h" cx="841.4" cy="1260" r="4.8"/>
<circle class="p" cx="661.4" cy="1290" r="9.5"/>
<circle class="h" cx="661.4" cy="1290" r="4.8"/>
<circle class="p" cx="841.4" cy="1290" r="9.5"/>
<circle class="h" cx="841.4" cy="1290" r="4.8"/>
<circle class="p" cx="661.4" cy="1320" r="9.5"/>
<circle class="h" cx="661.4" cy="1320" r="4.8"/>
<circle class="p" cx="841.4" cy="1320" r="9.5"/>
<circle class="h" cx="841.4" cy="1320" r="4.8"/>
<circle class="p" cx="661.4" cy="1350" r="9.5"/>
<circle class="h" cx="661.4" cy="1350" r="4.8"/>
<circle class="p" cx="841.4" cy="1350" r="9.5"/>
<circle class="h" cx="841.4" cy="1350" r="4.8"/>
<circle class="p" cx="661.4" cy="1380" r="9.5"/>
<circle class="h" cx="661.4" cy="1380" r="4.8"/>
<circle class="p" cx="841.4" cy="1380" r="9.5"/>
<circle class="h" cx="841.4" cy="1380" r="4.8"/>
<circle class="p" cx="661.4" cy="1410" r="9.5"/>
<circle class="h" cx="661.4" cy="1410" r="4.8"/>
<circle class="p" cx="841.4" cy="1410" r="9.5"/>
<circle class="h" cx="841.4" cy="1410" r="4.8"/>
<circle class="p" cx="661.4" cy="1440" r="9.5"/>
<circle class="h" cx="661.4" cy="1440" r="4.8"/>
<circle class="p" cx="841.4" cy="1440" r="9.5"/>
<circle class="h" cx="841.4" cy="1440" r="4.8"/>
<circle class="p" cx="661.4" cy="1470" r="9.5"/>
<circle class="h" cx="661.4" cy="1470" r="4.8"/>
<circle class="p" cx="841.4" cy="1470" r="9.5"/>
<circle class="h" cx="841.4" cy="1470" r="4.8"/>
<circle class="p" cx="661.4" cy="1500" r="9.5"/>
<circle class="h" cx="661.4" cy="1500" r="4.8"/>
<circle class="p" cx="841.4" cy="1500" r="9.5"/>
<circle class="h" cx="841.4" cy="1500" r="4.8"/>
<circle class="p" cx="661.4" cy="1530" r="9.5"/>
<circle class="h" cx="661.4" cy="1530" r="4.8"/>
<circle class="p" cx="841.4" cy="1530" r="9.5"/>
<circle class="h" cx="841.4" cy="1530" r="4.8"/>
<circle class="p" cx="661.4" cy="1560" r="9.5"/>
<circle class="h" cx="661.4" cy="1560" r="4.8"/>
<circle class="p" cx="841.4" cy="1560" r="9.5"/>
<circle class="h" cx="841.4" cy="1560" r="4.8"/>
<circle class="p" cx="661.4" cy="1590" r="9.5"/>
<circle class="h" cx="661.4" cy="1590" r="4.8"/>
<circle class="p" cx="841.4" cy="1590" r="9.5"/>
<circle class="h" cx="841.4" cy="1590" r="4.8"/>
<circle class="p" cx="661.4" cy="1620" r="9.5"/>
<circle class="h" cx="661.4" cy="1620" r="4.8"/>
<circle class="p" cx="841.4" cy="1620" r="9.5"/>
<circle class="h" cx="841.4" cy="1620" r="4.8"/>
<circle class="p" cx="661.4" cy="1650" r="9.5"/>
<circle class="h" cx="661.4" cy="1650" r="4.8"/>
<circle class="p" cx="841.4" cy="1650" r="9.5"/>
<circle class="h" cx="841.4" cy="1650" r="4.8"/>
<circle class="p" cx="661.4" cy="1680" r="9.5"/>
<circle class="h" cx="661.4" cy="1680" r="4.8"/>
<circle class="p" cx="841.4" cy="1680" r="9.5"/>
<circle class="h" cx="841.4" cy="1680" r="4.8"/>
<circle class="p" cx="661.4" cy="1710" r="9.5"/>
<circle class="h" cx="661.4" cy="1710" r="4.8"/>
<circle class="p" cx="841.4" cy="1710" r="9.5"/>
<circle class="h" cx="841.4" cy="1710" r="4.8"/>
<rect class="p" x="1014.8" y="1310.1" width="19" height="19"/>
<circle class="h" cx="1024.3" cy="1319.6" r="4.8"/>
<circle class="p" cx="1204.3" cy="1319.6" r="9.5"/>
<circle class="h" cx="1204.3" cy="1319.6" r="4.8"/>
<circle class="p" cx="1024.3" cy="1349.6" r="9.5"/>
<circle class="h" cx="1024.3" cy="1349.6" r="4.8"/>
<circle class="p" cx="1204.3" cy="1349.6" r="9.5"/>
<circle class="h" cx="1204.3" cy="1349.6" r="4.8"/>
<circle class="p" cx="1024.3" cy="1379.6" r="9.5"/>
<circle class="h" cx="1024.3" cy="1379.6" r="4.8"/>
<circle class="p" cx="1204.3" cy="1379.6" r="9.5"/>
<circle class="h" cx="1204.3" cy="1379.6" r="4.8"/>
<circle class="p" cx="1024.3" cy="1409.6" r="9.5"/>
<circle class="h" cx="1024.3" cy="1409.6" r="4.8"/>
<circle class="p" cx="1204.3" cy="1409.6" r="9.5"/>
<circle class="h" cx="1204.3" cy="1409.6" r="4.8"/>
<circle class="p" cx="1024.3" cy="1439.6" r="9.5"/>
<circle class="h" cx="1024.3" cy="1439.6" r="4.8"/>
<circle class="p" cx="1204.3" cy="1439.6" r="9.5"/>
<circle class="h" cx="1204.3" cy="1439.6" r="4.8"/>
<circle class="p" cx="1024.3" cy="1469.6" r="9.5"/>
<circle class="h" cx="1024.3" cy="1469.6" r="4.8"/>
<circle class="p" cx="1204.3" cy="1469.6" r="9.5"/>
<circle class="h" cx="1204.3" cy="1469.6" r="4.8"/>
<circle class="p" cx="1024.3" cy="1499.6" r="9.5"/>
<circle class="h" cx="1024.3" cy="1499.6" r="4.8"/>
<circle class="p" cx="1204.3" cy="1499.6" r="9.5"/>
<circle class="h" cx="1204.3" cy="1499.6" r="4.8"/>
<circle class="p" cx="1024.3" cy="1529.6" r="9.5"/>
<circle class="h" cx="1024.3" cy="1529.6" r="4.8"/>
<circle class="p" cx="1204.3" cy="1529.6" r="9.5"/>
<circle class="h" cx="1204.3" cy="1529.6" r="4.8"/>
<circle class="p" cx="1024.3" cy="1559.6" r="9.5"/>
<circle class="h" cx="1024.3" cy="1559.6" r="4.8"/>
<circle class="p" cx="1204.3" cy="1559.6" r="9.5"/>
<circle class="h" cx="1204.3" cy="1559.6" r="4.8"/>
<circle class="p" cx="1024.3" cy="1589.6" r="9.5"/>
<circle class="h" cx="1024.3" cy="1589.6" r="4.8"/>
<circle class="p" cx="1204.3" cy="1589.6" r="9.5"/>
<circle class="h" cx="1204.3" cy="1589.6" r="4.8"/>
<circle class="p" cx="1024.3" cy="1619.6" r="9.5"/>
<circle class="h" cx="1024.3" cy="1619.6" r="4.8"/>
<circle class="p" cx="1204.3" cy="1619.6" r="9.5"/>
<circle class="h" cx="1204.3" cy="1619.6" r="4.8"/>
<circle class="p" cx="1024.3" cy="1649.6" r="9.5"/>
<circle class="h" cx="1024.3" cy="1649.6" r="4.8"/>
<circle class="p" cx="1204.3" cy="1649.6" r="9.5"/>
<circle class="h" cx="1204.3" cy="1649.6" r="4.8"/>
<circle class="p" cx="1024.3" cy="1679.6" r="9.5"/>
<circle class="h" cx="1024.3" cy="1679.6" r="4.8"/>
<circle class="p" cx="1204.3" cy="1679.6" r="9.5"/>
<circle class="h" cx="1204.3" cy="1679.6" r="4.8"/>
<circle class="p" cx="1024.3" cy="1709.6" r="9.5"/>
<circle class="h" cx="1024.3" cy="1709.6" r="4.8"/>
<circle class="p" cx="1204.3" cy="1709.6" r="9.5"/>
<circle class="h" cx="1204.3" cy="1709.6" r="4.8"/>
<circle class="p" cx="607.7" cy="323.9" r="9.5"/>
<circle class="h" cx="607.7" cy="323.9" r="4.8"/>
<circle class="p" cx="607.7" cy="263.9" r="9.5"/>
<circle class="h" cx="607.7" cy="263.9" r="4.8"/>
<circle class="p" cx="714.2" cy="351.4" r="9.5"/>
<circle class="h" cx="714.2" cy="351.4" r="4.8"/>
<circle class="p" cx="714.2" cy="411.4" r="9.5"/>
<circle class="h" cx="714.2" cy="411.4" r="4.8"/>
<circle class="p" cx="849.9" cy="400.3" r="9.5"/>
<circle class="h" cx="849.9" cy="400.3" r="4.8"/>
<circle class="p" cx="849.9" cy="340.3" r="9.5"/>
<circle class="h" cx="849.9" cy="340.3" r="4.8"/>
<circle class="p" cx="1225.2" cy="368.2" r="9.5"/>
<circle class="h" cx="1225.2" cy="368.2" r="4.8"/>
<circle class="p" cx="1225.2" cy="308.2" r="9.5"/>
<circle class="h" cx="1225.2" cy="308.2" r="4.8"/>
<circle class="p" cx="593.1" cy="478.8" r="9.5"/>
<circle class="h" cx="593.1" cy="478.8" r="4.8"/>
<circle class="p" cx="593.1" cy="538.8" r="9.5"/>
<circle class="h" cx="593.1" cy="538.8" r="4.8"/>
<circle class="p" cx="1245.8" cy="787.3" r="9.5"/>
<circle class="h" cx="1245.8" cy="787.3" r="4.8"/>
<circle class="p" cx="1245.8" cy="727.3" r="9.5"/>
<circle class="h" cx="1245.8" cy="727.3" r="4.8"/>
<circle class="p" cx="1298.9" cy="1043" r="9.5"/>
<circle class="h" cx="1298.9" cy="1043" r="4.8"/>
<circle class="p" cx="1298.9" cy="1103" r="9.5"/>
<circle class="h" cx="1298.9" cy="1103" r="4.8"/>
<circle class="p" cx="667.1" cy="1152.1" r="9.5"/>
<circle class="h" cx="667.1" cy="1152.1" r="4.8"/>
<circle class="p" cx="667.1" cy="1212.1" r="9.5"/>
<circle class="h" cx="667.1" cy="1212.1" r="4.8"/>
<circle class="p" cx="457.2" cy="387.8" r="8.8"/>
<circle class="h" cx="457.2" cy="387.8" r="4.7"/>
<rect class="p" x="448.4" y="408.9" width="17.5" height="17.5"/>
<circle class="h" cx="457.2" cy="417.6" r="4.7"/>
<circle class="p" cx="451.6" cy="768.6" r="8.8"/>
<circle class="h" cx="451.6" cy="768.6" r="4.7"/>
<rect class="p" x="442.9" y="789.6" width="17.5" height="17.5"/>
<circle class="h" cx="451.6" cy="798.4" r="4.7"/>
<circle class="p" cx="448.4" cy="1163.3" r="8.8"/>
<circle class="h" cx="448.4" cy="1163.3" r="4.7"/>
<rect class="p" x="439.6" y="1184.5" width="17.5" height="17.5"/>
<circle class="h" cx="448.4" cy="1193.3" r="4.7"/>
<circle class="p" cx="1310.8" cy="603.4" r="8.8"/>
<circle class="h" cx="1310.8" cy="603.4" r="4.7"/>
<rect class="p" x="1302" y="624.5" width="17.5" height="17.5"/>
<circle class="h" cx="1310.8" cy="633.2" r="4.7"/>
<circle class="p" cx="1304.1" cy="385.1" r="8.8"/>
<circle class="h" cx="1304.1" cy="385.1" r="4.7"/>
<rect class="p" x="1325.2" y="376.4" width="17.5" height="17.5"/>
<circle class="h" cx="1333.9" cy="385.1" r="4.7"/>
<circle class="p" cx="1168.4" cy="810.3" r="8.8"/>
<circle class="h" cx="1168.4" cy="810.3" r="4.7"/>
<rect class="p" x="1129.5" y="801.5" width="17.5" height="17.5"/>
<circle class="h" cx="1138.2" cy="810.3" r="4.7"/>
<circle class="p" cx="1170.6" cy="1241.6" r="8.8"/>
<circle class="h" cx="1170.6" cy="1241.6" r="4.7"/>
<rect class="p" x="1191.8" y="1232.8" width="17.5" height="17.5"/>
<circle class="h" cx="1200.6" cy="1241.6" r="4.7"/>
<circle class="p" cx="736.7" cy="1776.4" r="8.8"/>
<circle class="h" cx="736.7" cy="1776.4" r="4.7"/>
<rect class="p" x="757.6" y="1767.7" width="17.5" height="17.5"/>
<circle class="h" cx="766.4" cy="1776.4" r="4.7"/>
<circle class="p" cx="413.2" cy="1613.5" r="8.8"/>
<circle class="h" cx="413.2" cy="1613.5" r="4.7"/>
<rect class="p" x="374.2" y="1604.8" width="17.5" height="17.5"/>
<circle class="h" cx="383" cy="1613.5" r="4.7"/>
<circle class="p" cx="414.2" cy="1678.8" r="8.8"/>
<circle class="h" cx="414.2" cy="1678.8" r="4.7"/>
<rect class="p" x="375.6" y="1670" width="17.5" height="17.5"/>
<circle class="h" cx="384.3" cy="1678.8" r="4.7"/>
<circle class="p" cx="430.9" cy="1755.2" r="8.8"/>
<circle class="h" cx="430.9" cy="1755.2" r="4.7"/>
<rect class="p" x="361.9" y="1746.5" width="17.5" height="17.5"/>
<circle class="h" cx="370.6" cy="1755.2" r="4.7"/>
<circle class="p" cx="448.6" cy="261.3" r="9.5"/>
<circle class="h" cx="448.6" cy="261.3" r="4.8"/>
<circle class="p" cx="507.6" cy="261.3" r="9.5"/>
<circle class="h" cx="507.6" cy="261.3" r="4.8"/>
<circle class="p" cx="463.3" cy="325.9" r="8.3"/>
<circle class="h" cx="463.3" cy="325.9" r="4.7"/>
<rect class="p" x="484.4" y="317.4" width="17" height="17"/>
<circle class="h" cx="492.9" cy="325.9" r="4.7"/>
<circle class="p" cx="1334.1" cy="717.2" r="8.3"/>
<circle class="h" cx="1334.1" cy="717.2" r="4.7"/>
<rect class="p" x="1325.6" y="738.9" width="17" height="17"/>
<circle class="h" cx="1334.1" cy="747.4" r="4.7"/>
<circle class="p" cx="1381.5" cy="717.2" r="8.3"/>
<circle class="h" cx="1381.5" cy="717.2" r="4.7"/>
<rect class="p" x="1373" y="738.9" width="17" height="17"/>
<circle class="h" cx="1381.5" cy="747.4" r="4.7"/>
<circle class="p" cx="714.9" cy="266.7" r="8.8"/>
<circle class="h" cx="714.9" cy="266.7" r="4.7"/>
<circle class="p" cx="772.4" cy="266.7" r="8.8"/>
<circle class="h" cx="772.4" cy="266.7" r="4.7"/>
<circle class="p" cx="1329.3" cy="857.4" r="8.8"/>
<circle class="h" cx="1329.3" cy="857.4" r="4.7"/>
<circle class="p" cx="1387.1" cy="857.4" r="8.8"/>
<circle class="h" cx="1387.1" cy="857.4" r="4.7"/>
<rect class="p" x="1036.7" y="257.2" width="20" height="20"/>
<circle class="h" cx="1046.7" cy="267.2" r="5.9"/>
<circle class="p" cx="1016.7" cy="267.2" r="10"/>
<circle class="h" cx="1016.7" cy="267.2" r="5.9"/>
<circle class="p" cx="986.7" cy="267.2" r="10"/>
<circle class="h" cx="986.7" cy="267.2" r="5.9"/>
<circle class="p" cx="956.7" cy="267.2" r="10"/>
<circle class="h" cx="956.7" cy="267.2" r="5.9"/>
<circle class="p" cx="926.7" cy="267.2" r="10"/>
<circle class="h" cx="926.7" cy="267.2" r="5.9"/>
<circle class="p" cx="896.7" cy="267.2" r="10"/>
<circle class="h" cx="896.7" cy="267.2" r="5.9"/>
<rect class="p" x="373.8" y="1538.8" width="20" height="20"/>
<circle class="h" cx="383.8" cy="1548.8" r="5.9"/>
<circle class="p" cx="413.8" cy="1548.8" r="10"/>
<circle class="h" cx="413.8" cy="1548.8" r="5.9"/>
<circle class="p" cx="1278.2" cy="269.9" r="9.2"/>
<circle class="h" cx="1278.2" cy="269.9" r="5.6"/>
<circle class="p" cx="1354.8" cy="269.9" r="9.2"/>
<circle class="h" cx="1354.8" cy="269.9" r="5.6"/>
<circle class="p" cx="1278.2" cy="322.9" r="9.2"/>
<circle class="h" cx="1278.2" cy="322.9" r="5.6"/>
<circle class="p" cx="1354.8" cy="322.9" r="9.2"/>
<circle class="h" cx="1354.8" cy="322.9" r="5.6"/>
</g>
</svg>
</body></html>
